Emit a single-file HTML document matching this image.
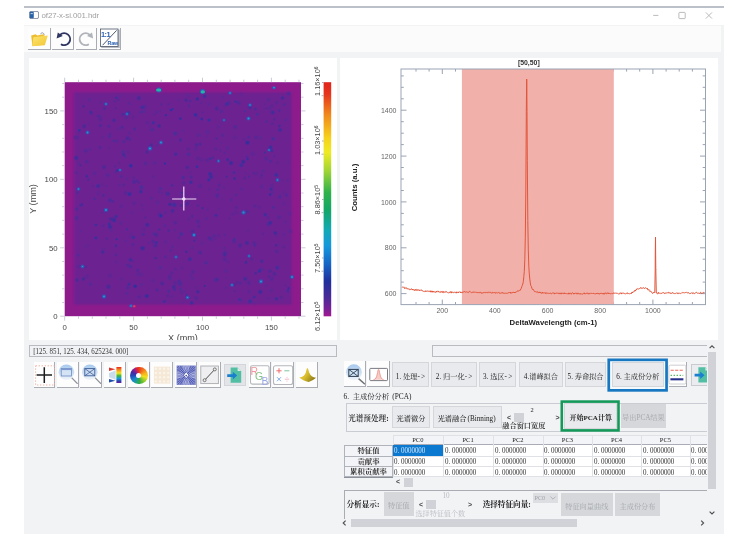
<!DOCTYPE html>
<html lang="zh">
<head>
<meta charset="utf-8">
<title>of27-x-si.001.hdr</title>
<style>
html,body{margin:0;padding:0;background:#fff;}
body{width:736px;height:550px;position:relative;overflow:hidden;font-family:"Liberation Sans","Noto Sans CJK SC",sans-serif;}
.abs{position:absolute;}
#win{position:absolute;left:24px;top:6px;width:700px;height:528px;background:#f2f3f5;}
#topline{position:absolute;left:24px;top:6px;width:700px;height:2px;background:#bcc0c9;}
#title{position:absolute;left:24px;top:8px;width:700px;height:17px;background:#fff;}
#ttext{position:absolute;left:41.5px;top:10px;font-size:7.9px;line-height:11px;color:#a0a0a0;letter-spacing:-0.1px;white-space:nowrap;}
#tbar{position:absolute;left:24px;top:26px;width:697px;height:26px;background:#fbfbfc;}
.panel{position:absolute;background:#fff;}
.tb{position:absolute;background:#fdfdfd;border-right:1px solid #a9acb2;border-bottom:1px solid #a9acb2;box-sizing:border-box;}
.inp{position:absolute;box-sizing:border-box;border:1px solid #b9bbc0;background:#f1f2f5;font-family:"Liberation Serif","Noto Serif CJK SC",serif;font-size:7px;line-height:9px;color:#333;white-space:nowrap;}
.cj{font-family:"Liberation Serif","Noto Serif CJK SC",serif;white-space:nowrap;position:absolute;color:#222;}
.btn{position:absolute;box-sizing:border-box;padding-top:4.6px;background:#e9eaed;border:1px solid #d4d6da;font-family:"Liberation Serif","Noto Serif CJK SC",serif;font-size:7.2px;color:#222;text-align:center;white-space:nowrap;}
.btn.dis{background:#d5d7da;border-color:#d5d7da;color:#a4a7ad;}
.p{letter-spacing:.25em}.q{letter-spacing:.167em}.r{margin-left:.167em}
.gb{position:absolute;box-sizing:border-box;border:1px solid #c9ccd2;}
</style>
</head>
<body>
<div id="win"></div>
<div id="topline"></div>
<div id="title"></div>
<!-- title icon -->
<svg class="abs" style="left:29px;top:11.2px" width="10" height="8" viewBox="0 0 10 8"><rect x="0.4" y="0.4" width="9.2" height="7.2" rx="1.6" fill="#fff" stroke="#6a7a90" stroke-width="0.8"/><rect x="0.8" y="0.8" width="4" height="6.4" rx="1" fill="#2a63a8"/><rect x="1.6" y="2.2" width="2.2" height="0.9" fill="#cfe0f5"/></svg>
<div id="ttext">of27-x-si.001.hdr</div>
<svg class="abs" style="left:650px;top:9px" width="70" height="14" viewBox="0 0 70 14" fill="none" stroke="#b3b3b3" stroke-width="0.9"><path d="M3.2 6.4h5.2"/><rect x="28.9" y="3.4" width="6.3" height="6.2" rx="0.6"/><path d="M55.8 3.4l6.2 6.2M62 3.4l-6.2 6.2"/></svg>
<div id="tbar"></div>

<div class="panel" style="left:29.3px;top:57.5px;width:307.7px;height:282.5px;"></div>
<div class="panel" style="left:340px;top:57.5px;width:377.7px;height:282px;"></div>
<svg style="position:absolute;left:0;top:0" width="736" height="550" viewBox="0 0 736 550">
<defs><filter id="b1" x="-50%" y="-50%" width="200%" height="200%"><feGaussianBlur stdDeviation="0.8"/></filter><filter id="b3" x="-5%" y="-5%" width="110%" height="110%"><feGaussianBlur stdDeviation="1.1"/></filter><filter id="b2" x="-50%" y="-50%" width="200%" height="200%"><feGaussianBlur stdDeviation="0.7"/></filter><radialGradient id="dg0"><stop offset="0" stop-color="#2c2f9e"/><stop offset="0.35" stop-color="#2c2f9e" stop-opacity="0.85"/><stop offset="1" stop-color="#2c2f9e" stop-opacity="0"/></radialGradient><radialGradient id="dg1"><stop offset="0" stop-color="#33309c"/><stop offset="0.35" stop-color="#33309c" stop-opacity="0.85"/><stop offset="1" stop-color="#33309c" stop-opacity="0"/></radialGradient><radialGradient id="dg2"><stop offset="0" stop-color="#2732a4"/><stop offset="0.35" stop-color="#2732a4" stop-opacity="0.85"/><stop offset="1" stop-color="#2732a4" stop-opacity="0"/></radialGradient><radialGradient id="dg3"><stop offset="0" stop-color="#3b2c9a"/><stop offset="0.35" stop-color="#3b2c9a" stop-opacity="0.85"/><stop offset="1" stop-color="#3b2c9a" stop-opacity="0"/></radialGradient><radialGradient id="dg4"><stop offset="0" stop-color="#2a34a2"/><stop offset="0.35" stop-color="#2a34a2" stop-opacity="0.85"/><stop offset="1" stop-color="#2a34a2" stop-opacity="0"/></radialGradient><radialGradient id="dg5"><stop offset="0" stop-color="#43309a"/><stop offset="0.35" stop-color="#43309a" stop-opacity="0.85"/><stop offset="1" stop-color="#43309a" stop-opacity="0"/></radialGradient><linearGradient id="cb" x1="0" y1="0" x2="0" y2="1"><stop offset="0" stop-color="#e0241c"/><stop offset="0.05" stop-color="#e5341c"/><stop offset="0.14" stop-color="#f08a1c"/><stop offset="0.24" stop-color="#f6d31c"/><stop offset="0.30" stop-color="#eeea22"/><stop offset="0.38" stop-color="#9fd436"/><stop offset="0.47" stop-color="#2fb24a"/><stop offset="0.55" stop-color="#12a66a"/><stop offset="0.63" stop-color="#12a9b4"/><stop offset="0.70" stop-color="#1598dc"/><stop offset="0.78" stop-color="#1663c4"/><stop offset="0.85" stop-color="#1f2f9c"/><stop offset="0.92" stop-color="#4a2a98"/><stop offset="0.97" stop-color="#7a2096"/><stop offset="1" stop-color="#a01890"/></linearGradient><clipPath id="hc"><rect x="71.0" y="86.4" width="223.60000000000002" height="221.20000000000002"/></clipPath></defs>
<rect x="64.7" y="82.2" width="236.3" height="234.0" fill="#8d1b8c"/>
<rect x="74.0" y="92.4" width="217.60000000000002" height="212.20000000000002" fill="#6c2491" filter="url(#b3)"/>
<g clip-path="url(#hc)">
<g>
<circle cx="172.5" cy="211.1" r="2.9" fill="url(#dg3)" opacity="0.45"/>
<circle cx="115.9" cy="262.4" r="2.3" fill="url(#dg4)" opacity="0.18"/>
<circle cx="140.4" cy="112.5" r="2.7" fill="url(#dg5)" opacity="0.36"/>
<circle cx="160.4" cy="188.6" r="2.6" fill="url(#dg5)" opacity="0.66"/>
<circle cx="188.9" cy="105.9" r="1.9" fill="url(#dg1)" opacity="0.42"/>
<circle cx="145.3" cy="217.6" r="1.9" fill="url(#dg1)" opacity="0.32"/>
<circle cx="217.8" cy="189.5" r="2.0" fill="url(#dg4)" opacity="0.44"/>
<circle cx="227.6" cy="159.7" r="1.9" fill="url(#dg2)" opacity="0.85"/>
<circle cx="98.3" cy="116.1" r="2.0" fill="url(#dg0)" opacity="0.45"/>
<circle cx="75.1" cy="137.5" r="2.9" fill="url(#dg3)" opacity="0.40"/>
<circle cx="165.5" cy="212.4" r="1.9" fill="url(#dg5)" opacity="0.68"/>
<circle cx="146.7" cy="296.0" r="2.7" fill="url(#dg0)" opacity="0.90"/>
<circle cx="77.4" cy="191.1" r="2.3" fill="url(#dg5)" opacity="0.31"/>
<circle cx="116.1" cy="247.2" r="1.8" fill="url(#dg5)" opacity="0.29"/>
<circle cx="288.5" cy="93.5" r="2.8" fill="url(#dg4)" opacity="0.46"/>
<circle cx="120.4" cy="176.3" r="2.8" fill="url(#dg5)" opacity="0.16"/>
<circle cx="106.6" cy="186.2" r="1.6" fill="url(#dg4)" opacity="0.25"/>
<circle cx="90.8" cy="112.3" r="2.4" fill="url(#dg1)" opacity="0.78"/>
<circle cx="209.1" cy="120.1" r="2.4" fill="url(#dg4)" opacity="0.79"/>
<circle cx="210.2" cy="158.7" r="1.9" fill="url(#dg4)" opacity="0.72"/>
<circle cx="234.4" cy="291.1" r="1.9" fill="url(#dg3)" opacity="0.36"/>
<circle cx="165.9" cy="115.2" r="1.7" fill="url(#dg2)" opacity="0.90"/>
<circle cx="130.4" cy="266.5" r="2.4" fill="url(#dg2)" opacity="0.48"/>
<circle cx="285.7" cy="120.0" r="2.3" fill="url(#dg5)" opacity="0.37"/>
<circle cx="135.4" cy="286.2" r="1.9" fill="url(#dg0)" opacity="0.79"/>
<circle cx="128.7" cy="103.2" r="2.0" fill="url(#dg4)" opacity="0.20"/>
<circle cx="153.1" cy="280.7" r="3.0" fill="url(#dg5)" opacity="0.33"/>
<circle cx="279.1" cy="217.4" r="2.9" fill="url(#dg3)" opacity="0.40"/>
<circle cx="282.6" cy="97.9" r="2.5" fill="url(#dg3)" opacity="0.76"/>
<circle cx="104.5" cy="108.6" r="2.2" fill="url(#dg2)" opacity="0.47"/>
<circle cx="233.9" cy="241.3" r="2.7" fill="url(#dg2)" opacity="0.39"/>
<circle cx="269.2" cy="276.5" r="2.2" fill="url(#dg0)" opacity="0.35"/>
<circle cx="209.7" cy="173.8" r="2.4" fill="url(#dg4)" opacity="0.68"/>
<circle cx="99.9" cy="147.5" r="2.2" fill="url(#dg2)" opacity="0.41"/>
<circle cx="200.3" cy="186.0" r="2.8" fill="url(#dg0)" opacity="0.33"/>
<circle cx="141.9" cy="111.8" r="1.6" fill="url(#dg5)" opacity="0.92"/>
<circle cx="217.3" cy="195.6" r="2.9" fill="url(#dg2)" opacity="0.39"/>
<circle cx="118.7" cy="129.1" r="2.9" fill="url(#dg5)" opacity="0.32"/>
<circle cx="127.1" cy="178.5" r="2.0" fill="url(#dg5)" opacity="0.43"/>
<circle cx="272.1" cy="278.4" r="2.1" fill="url(#dg4)" opacity="0.22"/>
<circle cx="104.0" cy="167.1" r="2.9" fill="url(#dg0)" opacity="0.48"/>
<circle cx="134.7" cy="129.0" r="2.2" fill="url(#dg2)" opacity="0.44"/>
<circle cx="157.5" cy="202.7" r="2.5" fill="url(#dg5)" opacity="0.49"/>
<circle cx="172.6" cy="109.1" r="1.6" fill="url(#dg4)" opacity="0.90"/>
<circle cx="198.0" cy="158.4" r="2.7" fill="url(#dg0)" opacity="0.29"/>
<circle cx="115.9" cy="255.1" r="2.0" fill="url(#dg1)" opacity="0.49"/>
<circle cx="99.9" cy="116.3" r="2.3" fill="url(#dg5)" opacity="0.49"/>
<circle cx="222.6" cy="135.3" r="2.3" fill="url(#dg1)" opacity="0.41"/>
<circle cx="190.3" cy="101.0" r="1.9" fill="url(#dg2)" opacity="0.48"/>
<circle cx="182.9" cy="302.9" r="1.8" fill="url(#dg5)" opacity="0.18"/>
<circle cx="276.1" cy="245.2" r="1.8" fill="url(#dg3)" opacity="0.96"/>
<circle cx="76.5" cy="209.0" r="2.5" fill="url(#dg4)" opacity="0.48"/>
<circle cx="175.0" cy="230.3" r="1.9" fill="url(#dg5)" opacity="0.43"/>
<circle cx="274.3" cy="119.4" r="1.9" fill="url(#dg3)" opacity="0.49"/>
<circle cx="190.8" cy="259.6" r="2.0" fill="url(#dg5)" opacity="0.27"/>
<circle cx="92.8" cy="186.1" r="2.4" fill="url(#dg2)" opacity="0.16"/>
<circle cx="249.5" cy="106.9" r="2.7" fill="url(#dg1)" opacity="0.39"/>
<circle cx="272.5" cy="192.3" r="3.0" fill="url(#dg5)" opacity="0.39"/>
<circle cx="169.9" cy="278.4" r="2.4" fill="url(#dg5)" opacity="0.73"/>
<circle cx="188.5" cy="154.4" r="2.6" fill="url(#dg5)" opacity="0.83"/>
<circle cx="270.6" cy="147.3" r="2.5" fill="url(#dg4)" opacity="0.95"/>
<circle cx="283.8" cy="203.6" r="2.4" fill="url(#dg1)" opacity="0.19"/>
<circle cx="76.1" cy="172.7" r="2.4" fill="url(#dg0)" opacity="0.29"/>
<circle cx="247.7" cy="211.7" r="2.3" fill="url(#dg5)" opacity="0.98"/>
<circle cx="173.9" cy="286.9" r="2.7" fill="url(#dg3)" opacity="0.82"/>
<circle cx="102.4" cy="184.6" r="2.7" fill="url(#dg3)" opacity="0.19"/>
<circle cx="165.5" cy="99.6" r="2.0" fill="url(#dg5)" opacity="0.16"/>
<circle cx="116.8" cy="141.2" r="2.6" fill="url(#dg2)" opacity="0.24"/>
<circle cx="182.5" cy="198.4" r="2.4" fill="url(#dg4)" opacity="0.40"/>
<circle cx="226.2" cy="278.1" r="1.6" fill="url(#dg5)" opacity="0.34"/>
<circle cx="109.4" cy="136.3" r="2.5" fill="url(#dg5)" opacity="0.73"/>
<circle cx="192.1" cy="216.7" r="1.8" fill="url(#dg5)" opacity="0.27"/>
<circle cx="114.1" cy="220.2" r="2.8" fill="url(#dg1)" opacity="1.00"/>
<circle cx="266.4" cy="121.6" r="1.9" fill="url(#dg5)" opacity="0.79"/>
<circle cx="168.7" cy="291.2" r="2.4" fill="url(#dg5)" opacity="0.79"/>
<circle cx="222.7" cy="97.1" r="1.9" fill="url(#dg5)" opacity="0.44"/>
<circle cx="152.9" cy="241.5" r="2.5" fill="url(#dg2)" opacity="0.39"/>
<circle cx="115.7" cy="108.2" r="1.7" fill="url(#dg0)" opacity="0.36"/>
<circle cx="270.1" cy="194.6" r="1.9" fill="url(#dg0)" opacity="0.94"/>
<circle cx="288.5" cy="288.2" r="1.7" fill="url(#dg0)" opacity="0.89"/>
<circle cx="91.7" cy="113.7" r="2.1" fill="url(#dg3)" opacity="0.30"/>
<circle cx="204.6" cy="96.2" r="2.6" fill="url(#dg1)" opacity="0.81"/>
<circle cx="234.4" cy="178.6" r="1.9" fill="url(#dg1)" opacity="0.93"/>
<circle cx="144.8" cy="111.2" r="2.8" fill="url(#dg5)" opacity="0.35"/>
<circle cx="116.2" cy="216.3" r="2.1" fill="url(#dg2)" opacity="0.69"/>
<circle cx="235.2" cy="127.0" r="2.9" fill="url(#dg1)" opacity="0.46"/>
<circle cx="224.8" cy="254.7" r="2.7" fill="url(#dg3)" opacity="0.71"/>
<circle cx="246.9" cy="156.8" r="1.7" fill="url(#dg2)" opacity="0.47"/>
<circle cx="85.7" cy="150.8" r="2.9" fill="url(#dg2)" opacity="0.38"/>
<circle cx="197.8" cy="205.5" r="2.1" fill="url(#dg3)" opacity="0.40"/>
<circle cx="239.2" cy="299.4" r="1.6" fill="url(#dg4)" opacity="0.73"/>
<circle cx="170.7" cy="199.5" r="2.7" fill="url(#dg5)" opacity="0.18"/>
<circle cx="129.1" cy="283.8" r="2.4" fill="url(#dg4)" opacity="0.33"/>
<circle cx="257.5" cy="114.3" r="2.2" fill="url(#dg5)" opacity="0.86"/>
<circle cx="238.7" cy="102.9" r="2.9" fill="url(#dg1)" opacity="0.49"/>
<circle cx="259.5" cy="207.3" r="2.4" fill="url(#dg3)" opacity="0.30"/>
<circle cx="188.6" cy="219.1" r="2.1" fill="url(#dg2)" opacity="0.24"/>
<circle cx="275.4" cy="232.9" r="2.6" fill="url(#dg0)" opacity="0.74"/>
<circle cx="84.2" cy="126.3" r="2.7" fill="url(#dg3)" opacity="0.76"/>
<circle cx="160.8" cy="215.7" r="2.6" fill="url(#dg2)" opacity="0.97"/>
<circle cx="167.6" cy="193.8" r="3.0" fill="url(#dg1)" opacity="0.68"/>
<circle cx="249.7" cy="284.6" r="1.8" fill="url(#dg1)" opacity="0.19"/>
<circle cx="209.6" cy="189.2" r="1.9" fill="url(#dg0)" opacity="0.20"/>
<circle cx="153.3" cy="122.8" r="2.2" fill="url(#dg4)" opacity="0.85"/>
<circle cx="165.5" cy="256.9" r="2.3" fill="url(#dg1)" opacity="0.41"/>
<circle cx="126.4" cy="117.3" r="2.8" fill="url(#dg4)" opacity="0.28"/>
<circle cx="133.5" cy="237.4" r="2.4" fill="url(#dg4)" opacity="0.75"/>
<circle cx="126.6" cy="293.5" r="2.3" fill="url(#dg5)" opacity="0.46"/>
<circle cx="83.5" cy="106.2" r="2.0" fill="url(#dg3)" opacity="0.66"/>
<circle cx="123.0" cy="151.9" r="2.7" fill="url(#dg5)" opacity="0.73"/>
<circle cx="286.6" cy="195.1" r="2.1" fill="url(#dg2)" opacity="0.41"/>
<circle cx="255.8" cy="109.0" r="1.8" fill="url(#dg4)" opacity="0.42"/>
<circle cx="170.8" cy="250.5" r="2.1" fill="url(#dg1)" opacity="0.38"/>
<circle cx="288.3" cy="161.8" r="2.4" fill="url(#dg5)" opacity="0.21"/>
<circle cx="216.0" cy="215.4" r="2.2" fill="url(#dg2)" opacity="0.68"/>
<circle cx="196.6" cy="195.3" r="2.6" fill="url(#dg2)" opacity="0.15"/>
<circle cx="141.9" cy="284.8" r="2.4" fill="url(#dg5)" opacity="0.40"/>
<circle cx="224.6" cy="152.9" r="1.8" fill="url(#dg2)" opacity="0.26"/>
<circle cx="270.4" cy="161.2" r="2.2" fill="url(#dg4)" opacity="0.48"/>
<circle cx="271.9" cy="185.5" r="2.7" fill="url(#dg2)" opacity="0.23"/>
<circle cx="283.7" cy="246.8" r="2.3" fill="url(#dg0)" opacity="0.28"/>
<circle cx="153.3" cy="176.6" r="2.1" fill="url(#dg1)" opacity="0.28"/>
<circle cx="159.1" cy="125.9" r="2.4" fill="url(#dg1)" opacity="0.92"/>
<circle cx="264.9" cy="152.6" r="1.6" fill="url(#dg4)" opacity="0.71"/>
<circle cx="138.8" cy="98.1" r="2.8" fill="url(#dg3)" opacity="0.84"/>
<circle cx="244.9" cy="111.1" r="1.7" fill="url(#dg5)" opacity="0.76"/>
<circle cx="80.6" cy="230.8" r="1.7" fill="url(#dg5)" opacity="0.40"/>
<circle cx="180.4" cy="284.2" r="2.1" fill="url(#dg3)" opacity="0.27"/>
<circle cx="283.8" cy="234.7" r="2.3" fill="url(#dg4)" opacity="0.18"/>
<circle cx="208.3" cy="103.1" r="2.7" fill="url(#dg5)" opacity="0.15"/>
<circle cx="156.5" cy="112.2" r="2.3" fill="url(#dg4)" opacity="0.33"/>
<circle cx="228.1" cy="262.0" r="2.2" fill="url(#dg3)" opacity="0.24"/>
<circle cx="110.0" cy="226.9" r="2.6" fill="url(#dg2)" opacity="0.80"/>
<circle cx="138.0" cy="297.2" r="1.7" fill="url(#dg2)" opacity="0.26"/>
<circle cx="108.5" cy="286.7" r="2.9" fill="url(#dg3)" opacity="0.82"/>
<circle cx="247.6" cy="159.1" r="1.9" fill="url(#dg2)" opacity="0.73"/>
<circle cx="229.6" cy="218.4" r="1.9" fill="url(#dg1)" opacity="0.29"/>
<circle cx="271.3" cy="290.4" r="2.5" fill="url(#dg4)" opacity="0.24"/>
<circle cx="266.3" cy="285.6" r="2.1" fill="url(#dg4)" opacity="0.18"/>
<circle cx="261.0" cy="177.4" r="1.9" fill="url(#dg1)" opacity="0.28"/>
<circle cx="188.7" cy="201.8" r="2.0" fill="url(#dg0)" opacity="0.23"/>
<circle cx="77.3" cy="192.8" r="2.1" fill="url(#dg1)" opacity="0.36"/>
<circle cx="108.9" cy="126.4" r="2.1" fill="url(#dg2)" opacity="0.43"/>
<circle cx="103.3" cy="249.3" r="2.5" fill="url(#dg4)" opacity="0.20"/>
<circle cx="241.1" cy="93.7" r="2.7" fill="url(#dg1)" opacity="0.18"/>
<circle cx="133.2" cy="244.0" r="1.7" fill="url(#dg3)" opacity="0.18"/>
<circle cx="236.4" cy="207.6" r="2.3" fill="url(#dg0)" opacity="0.30"/>
<circle cx="272.7" cy="112.5" r="2.8" fill="url(#dg1)" opacity="0.79"/>
<circle cx="181.5" cy="292.4" r="2.9" fill="url(#dg2)" opacity="0.18"/>
<circle cx="140.9" cy="191.6" r="2.6" fill="url(#dg2)" opacity="0.70"/>
<circle cx="218.9" cy="235.5" r="2.6" fill="url(#dg0)" opacity="0.15"/>
<circle cx="156.3" cy="242.6" r="1.9" fill="url(#dg4)" opacity="0.92"/>
<circle cx="259.6" cy="270.9" r="2.6" fill="url(#dg4)" opacity="0.87"/>
<circle cx="277.1" cy="251.0" r="2.9" fill="url(#dg3)" opacity="0.18"/>
<circle cx="115.7" cy="172.6" r="1.8" fill="url(#dg2)" opacity="0.35"/>
<circle cx="231.0" cy="163.1" r="2.8" fill="url(#dg0)" opacity="0.87"/>
<circle cx="103.3" cy="225.9" r="1.9" fill="url(#dg1)" opacity="0.44"/>
<circle cx="202.8" cy="112.3" r="1.9" fill="url(#dg1)" opacity="0.30"/>
<circle cx="241.3" cy="165.2" r="2.8" fill="url(#dg4)" opacity="0.72"/>
<circle cx="106.9" cy="238.7" r="2.3" fill="url(#dg3)" opacity="0.40"/>
<circle cx="207.2" cy="160.2" r="2.7" fill="url(#dg1)" opacity="0.36"/>
<circle cx="79.0" cy="163.0" r="2.1" fill="url(#dg5)" opacity="0.35"/>
<circle cx="119.2" cy="163.3" r="2.0" fill="url(#dg0)" opacity="0.21"/>
<circle cx="240.3" cy="283.2" r="2.4" fill="url(#dg2)" opacity="0.33"/>
<circle cx="198.8" cy="135.1" r="2.9" fill="url(#dg5)" opacity="0.48"/>
<circle cx="197.3" cy="99.0" r="2.5" fill="url(#dg0)" opacity="0.82"/>
<circle cx="165.0" cy="163.5" r="1.7" fill="url(#dg2)" opacity="0.96"/>
<circle cx="172.5" cy="246.8" r="1.9" fill="url(#dg4)" opacity="0.35"/>
<circle cx="195.8" cy="149.0" r="2.9" fill="url(#dg2)" opacity="0.19"/>
<circle cx="252.8" cy="154.1" r="2.9" fill="url(#dg1)" opacity="0.28"/>
<circle cx="110.8" cy="219.0" r="2.7" fill="url(#dg3)" opacity="0.71"/>
<circle cx="287.8" cy="290.9" r="2.5" fill="url(#dg2)" opacity="0.45"/>
<circle cx="270.4" cy="222.7" r="2.5" fill="url(#dg0)" opacity="0.79"/>
<circle cx="82.1" cy="204.4" r="1.8" fill="url(#dg3)" opacity="0.83"/>
<circle cx="131.8" cy="212.8" r="2.1" fill="url(#dg5)" opacity="0.40"/>
<circle cx="244.8" cy="178.1" r="2.3" fill="url(#dg0)" opacity="0.29"/>
<circle cx="209.5" cy="238.3" r="2.7" fill="url(#dg2)" opacity="0.50"/>
<circle cx="255.7" cy="273.1" r="2.2" fill="url(#dg3)" opacity="0.69"/>
<circle cx="277.4" cy="162.8" r="2.3" fill="url(#dg3)" opacity="0.26"/>
<circle cx="86.8" cy="245.9" r="2.9" fill="url(#dg5)" opacity="0.26"/>
<circle cx="245.2" cy="278.9" r="2.8" fill="url(#dg1)" opacity="0.81"/>
<circle cx="183.4" cy="176.8" r="1.7" fill="url(#dg5)" opacity="0.97"/>
<circle cx="192.5" cy="231.5" r="2.9" fill="url(#dg0)" opacity="0.41"/>
<circle cx="262.9" cy="170.9" r="2.4" fill="url(#dg4)" opacity="0.23"/>
<circle cx="236.0" cy="212.5" r="2.9" fill="url(#dg0)" opacity="0.20"/>
<circle cx="265.2" cy="214.5" r="2.2" fill="url(#dg2)" opacity="0.75"/>
<circle cx="145.0" cy="106.6" r="2.9" fill="url(#dg4)" opacity="0.27"/>
<circle cx="201.2" cy="103.0" r="1.6" fill="url(#dg2)" opacity="0.32"/>
<circle cx="276.4" cy="298.8" r="2.3" fill="url(#dg1)" opacity="0.95"/>
<circle cx="224.3" cy="105.8" r="2.0" fill="url(#dg2)" opacity="0.16"/>
<circle cx="212.0" cy="240.1" r="2.4" fill="url(#dg4)" opacity="0.22"/>
<circle cx="264.8" cy="103.9" r="1.7" fill="url(#dg5)" opacity="0.49"/>
<circle cx="134.1" cy="181.8" r="2.8" fill="url(#dg2)" opacity="0.48"/>
<circle cx="171.0" cy="110.0" r="1.9" fill="url(#dg2)" opacity="0.89"/>
<circle cx="133.0" cy="244.8" r="2.3" fill="url(#dg2)" opacity="0.28"/>
<circle cx="217.7" cy="279.3" r="2.4" fill="url(#dg1)" opacity="0.46"/>
<circle cx="113.9" cy="140.9" r="1.8" fill="url(#dg5)" opacity="0.99"/>
<circle cx="169.9" cy="204.4" r="2.3" fill="url(#dg0)" opacity="0.86"/>
<circle cx="190.8" cy="182.4" r="2.4" fill="url(#dg1)" opacity="0.91"/>
<circle cx="128.0" cy="152.1" r="2.4" fill="url(#dg1)" opacity="0.20"/>
<circle cx="268.6" cy="224.1" r="2.9" fill="url(#dg4)" opacity="0.48"/>
<circle cx="182.8" cy="131.2" r="2.4" fill="url(#dg5)" opacity="0.26"/>
<circle cx="179.2" cy="100.1" r="2.0" fill="url(#dg5)" opacity="0.33"/>
<circle cx="280.1" cy="130.0" r="2.7" fill="url(#dg1)" opacity="0.80"/>
<circle cx="219.1" cy="208.6" r="2.0" fill="url(#dg5)" opacity="0.23"/>
<circle cx="180.5" cy="139.9" r="2.4" fill="url(#dg3)" opacity="0.72"/>
<circle cx="284.3" cy="104.4" r="2.2" fill="url(#dg1)" opacity="0.36"/>
<circle cx="206.2" cy="262.9" r="2.3" fill="url(#dg5)" opacity="0.93"/>
<circle cx="90.6" cy="284.1" r="2.4" fill="url(#dg4)" opacity="0.40"/>
<circle cx="209.4" cy="104.7" r="2.2" fill="url(#dg5)" opacity="0.37"/>
<circle cx="188.3" cy="149.0" r="2.4" fill="url(#dg0)" opacity="0.33"/>
<circle cx="156.7" cy="145.6" r="2.3" fill="url(#dg5)" opacity="0.43"/>
<circle cx="88.2" cy="179.7" r="2.1" fill="url(#dg1)" opacity="0.49"/>
<circle cx="102.7" cy="252.2" r="2.4" fill="url(#dg1)" opacity="0.81"/>
<circle cx="235.6" cy="101.6" r="1.9" fill="url(#dg4)" opacity="0.79"/>
<circle cx="139.3" cy="182.6" r="1.7" fill="url(#dg0)" opacity="0.40"/>
<circle cx="285.4" cy="222.1" r="2.0" fill="url(#dg0)" opacity="0.23"/>
<circle cx="174.5" cy="289.4" r="2.1" fill="url(#dg2)" opacity="0.47"/>
<circle cx="122.1" cy="127.1" r="2.4" fill="url(#dg0)" opacity="0.35"/>
<circle cx="271.6" cy="279.3" r="2.9" fill="url(#dg1)" opacity="0.29"/>
<circle cx="256.8" cy="173.5" r="2.7" fill="url(#dg1)" opacity="0.24"/>
<circle cx="246.0" cy="262.4" r="2.3" fill="url(#dg3)" opacity="0.81"/>
<circle cx="141.5" cy="187.4" r="3.0" fill="url(#dg5)" opacity="0.82"/>
<circle cx="191.5" cy="181.5" r="1.7" fill="url(#dg2)" opacity="0.25"/>
<circle cx="79.0" cy="131.7" r="2.0" fill="url(#dg3)" opacity="0.38"/>
<circle cx="121.9" cy="115.1" r="1.7" fill="url(#dg5)" opacity="0.28"/>
<circle cx="240.1" cy="245.5" r="2.9" fill="url(#dg0)" opacity="0.44"/>
<circle cx="172.0" cy="273.0" r="2.1" fill="url(#dg2)" opacity="0.33"/>
<circle cx="86.8" cy="176.2" r="1.9" fill="url(#dg0)" opacity="0.83"/>
<circle cx="102.5" cy="137.2" r="2.2" fill="url(#dg3)" opacity="0.20"/>
<circle cx="227.3" cy="148.1" r="2.6" fill="url(#dg5)" opacity="0.46"/>
<circle cx="254.9" cy="205.9" r="2.2" fill="url(#dg1)" opacity="0.45"/>
<circle cx="123.7" cy="154.8" r="2.1" fill="url(#dg1)" opacity="0.95"/>
<circle cx="236.1" cy="194.9" r="1.6" fill="url(#dg5)" opacity="0.88"/>
<circle cx="273.2" cy="138.8" r="2.6" fill="url(#dg5)" opacity="0.92"/>
<circle cx="155.7" cy="258.1" r="2.0" fill="url(#dg3)" opacity="0.82"/>
<circle cx="180.6" cy="289.0" r="2.0" fill="url(#dg5)" opacity="0.71"/>
<circle cx="161.8" cy="193.3" r="1.8" fill="url(#dg5)" opacity="0.33"/>
<circle cx="235.1" cy="284.2" r="2.7" fill="url(#dg3)" opacity="0.40"/>
<circle cx="194.3" cy="240.6" r="1.6" fill="url(#dg3)" opacity="0.97"/>
<circle cx="271.7" cy="150.6" r="2.1" fill="url(#dg4)" opacity="0.90"/>
<circle cx="266.0" cy="108.6" r="1.6" fill="url(#dg2)" opacity="0.35"/>
<circle cx="131.5" cy="233.8" r="1.9" fill="url(#dg3)" opacity="0.27"/>
<circle cx="268.5" cy="99.9" r="2.6" fill="url(#dg1)" opacity="0.37"/>
<circle cx="208.8" cy="179.8" r="2.2" fill="url(#dg2)" opacity="0.81"/>
<circle cx="171.9" cy="296.5" r="2.1" fill="url(#dg1)" opacity="0.25"/>
<circle cx="181.7" cy="192.8" r="1.6" fill="url(#dg4)" opacity="0.73"/>
<circle cx="221.6" cy="142.7" r="1.6" fill="url(#dg4)" opacity="0.15"/>
<circle cx="192.9" cy="271.9" r="2.7" fill="url(#dg0)" opacity="0.35"/>
<circle cx="254.2" cy="297.0" r="2.1" fill="url(#dg2)" opacity="0.66"/>
<circle cx="248.7" cy="137.1" r="2.2" fill="url(#dg1)" opacity="0.44"/>
<circle cx="109.4" cy="224.1" r="2.3" fill="url(#dg4)" opacity="0.80"/>
<circle cx="154.1" cy="233.8" r="2.3" fill="url(#dg5)" opacity="0.76"/>
<circle cx="113.3" cy="201.4" r="1.8" fill="url(#dg0)" opacity="0.44"/>
<circle cx="265.9" cy="158.6" r="2.8" fill="url(#dg4)" opacity="0.32"/>
<circle cx="110.1" cy="275.5" r="2.8" fill="url(#dg0)" opacity="0.29"/>
<circle cx="234.4" cy="239.2" r="2.0" fill="url(#dg5)" opacity="0.90"/>
<circle cx="145.5" cy="163.6" r="2.7" fill="url(#dg4)" opacity="0.35"/>
<circle cx="165.7" cy="242.0" r="2.5" fill="url(#dg2)" opacity="0.19"/>
<circle cx="156.3" cy="234.1" r="1.9" fill="url(#dg1)" opacity="0.32"/>
<circle cx="224.6" cy="259.6" r="2.9" fill="url(#dg2)" opacity="0.30"/>
<circle cx="211.1" cy="176.8" r="2.9" fill="url(#dg1)" opacity="0.90"/>
<circle cx="100.5" cy="102.3" r="2.0" fill="url(#dg5)" opacity="0.43"/>
<circle cx="162.2" cy="283.6" r="2.8" fill="url(#dg3)" opacity="0.67"/>
<circle cx="169.6" cy="276.2" r="2.5" fill="url(#dg1)" opacity="0.37"/>
<circle cx="240.0" cy="299.6" r="2.1" fill="url(#dg5)" opacity="0.75"/>
<circle cx="261.9" cy="186.4" r="2.8" fill="url(#dg4)" opacity="0.24"/>
<circle cx="180.3" cy="118.7" r="2.1" fill="url(#dg0)" opacity="0.85"/>
<circle cx="134.0" cy="177.5" r="2.1" fill="url(#dg0)" opacity="0.28"/>
<circle cx="131.0" cy="104.2" r="1.7" fill="url(#dg2)" opacity="0.15"/>
<circle cx="147.5" cy="122.8" r="2.7" fill="url(#dg3)" opacity="0.30"/>
<circle cx="249.0" cy="176.6" r="1.7" fill="url(#dg4)" opacity="0.44"/>
<circle cx="129.4" cy="133.0" r="2.0" fill="url(#dg1)" opacity="0.31"/>
<circle cx="254.7" cy="245.8" r="1.8" fill="url(#dg0)" opacity="0.34"/>
<circle cx="220.5" cy="150.4" r="1.6" fill="url(#dg4)" opacity="0.33"/>
<circle cx="77.3" cy="137.6" r="2.9" fill="url(#dg0)" opacity="0.24"/>
<circle cx="127.8" cy="287.7" r="2.3" fill="url(#dg2)" opacity="0.44"/>
<circle cx="240.5" cy="300.6" r="1.7" fill="url(#dg3)" opacity="0.40"/>
<circle cx="129.0" cy="284.6" r="1.6" fill="url(#dg4)" opacity="0.76"/>
<circle cx="231.2" cy="199.8" r="2.0" fill="url(#dg2)" opacity="0.31"/>
<circle cx="142.3" cy="107.4" r="2.5" fill="url(#dg4)" opacity="0.77"/>
<circle cx="234.9" cy="137.8" r="2.6" fill="url(#dg4)" opacity="0.22"/>
<circle cx="149.9" cy="126.1" r="2.1" fill="url(#dg1)" opacity="0.15"/>
<circle cx="183.4" cy="178.2" r="2.1" fill="url(#dg4)" opacity="0.42"/>
<circle cx="79.5" cy="130.1" r="1.7" fill="url(#dg4)" opacity="1.00"/>
<circle cx="167.7" cy="295.8" r="1.9" fill="url(#dg3)" opacity="0.46"/>
<circle cx="250.2" cy="108.1" r="2.1" fill="url(#dg2)" opacity="0.42"/>
<circle cx="188.2" cy="95.5" r="2.6" fill="url(#dg5)" opacity="0.38"/>
<circle cx="120.8" cy="222.9" r="2.8" fill="url(#dg5)" opacity="0.33"/>
<circle cx="197.4" cy="117.4" r="2.8" fill="url(#dg5)" opacity="0.30"/>
<circle cx="175.7" cy="269.3" r="2.3" fill="url(#dg3)" opacity="0.35"/>
<circle cx="186.1" cy="100.2" r="2.5" fill="url(#dg3)" opacity="0.67"/>
<circle cx="86.8" cy="161.7" r="2.4" fill="url(#dg2)" opacity="0.41"/>
<circle cx="142.5" cy="248.3" r="3.0" fill="url(#dg3)" opacity="0.99"/>
<circle cx="237.3" cy="282.0" r="1.8" fill="url(#dg1)" opacity="0.38"/>
<circle cx="277.2" cy="267.7" r="2.7" fill="url(#dg4)" opacity="0.74"/>
<circle cx="114.9" cy="101.4" r="2.1" fill="url(#dg4)" opacity="0.31"/>
<circle cx="190.6" cy="275.3" r="1.9" fill="url(#dg2)" opacity="0.23"/>
<circle cx="98.1" cy="186.0" r="2.7" fill="url(#dg1)" opacity="0.82"/>
<circle cx="87.1" cy="276.3" r="3.0" fill="url(#dg0)" opacity="0.20"/>
<circle cx="153.9" cy="114.5" r="1.7" fill="url(#dg2)" opacity="0.23"/>
<circle cx="137.2" cy="180.9" r="2.5" fill="url(#dg0)" opacity="0.37"/>
<circle cx="269.4" cy="108.5" r="3.0" fill="url(#dg1)" opacity="0.26"/>
<circle cx="281.3" cy="297.3" r="2.4" fill="url(#dg3)" opacity="0.44"/>
<circle cx="225.9" cy="270.9" r="2.9" fill="url(#dg5)" opacity="0.39"/>
<circle cx="114.0" cy="120.3" r="2.6" fill="url(#dg3)" opacity="0.75"/>
<circle cx="130.8" cy="165.7" r="2.5" fill="url(#dg2)" opacity="1.00"/>
<circle cx="224.1" cy="248.2" r="2.1" fill="url(#dg2)" opacity="0.22"/>
<circle cx="90.4" cy="149.3" r="2.1" fill="url(#dg4)" opacity="0.31"/>
<circle cx="184.2" cy="291.3" r="2.1" fill="url(#dg5)" opacity="0.32"/>
<circle cx="100.3" cy="119.3" r="2.8" fill="url(#dg0)" opacity="0.31"/>
<circle cx="276.3" cy="174.9" r="2.6" fill="url(#dg4)" opacity="0.87"/>
<circle cx="154.1" cy="163.5" r="2.4" fill="url(#dg5)" opacity="0.25"/>
<circle cx="224.8" cy="234.7" r="1.9" fill="url(#dg3)" opacity="0.36"/>
<circle cx="261.8" cy="175.0" r="2.0" fill="url(#dg0)" opacity="0.45"/>
<circle cx="202.4" cy="208.2" r="1.7" fill="url(#dg1)" opacity="0.78"/>
<circle cx="155.7" cy="245.4" r="2.5" fill="url(#dg2)" opacity="0.44"/>
<circle cx="263.2" cy="233.8" r="1.8" fill="url(#dg0)" opacity="0.31"/>
<circle cx="143.1" cy="234.4" r="2.4" fill="url(#dg1)" opacity="0.50"/>
<circle cx="160.2" cy="267.6" r="2.5" fill="url(#dg5)" opacity="0.67"/>
<circle cx="290.5" cy="231.3" r="2.7" fill="url(#dg1)" opacity="0.35"/>
<circle cx="182.2" cy="267.9" r="2.3" fill="url(#dg0)" opacity="0.18"/>
<circle cx="111.0" cy="229.8" r="2.5" fill="url(#dg5)" opacity="0.38"/>
<circle cx="284.1" cy="193.0" r="2.8" fill="url(#dg3)" opacity="0.16"/>
<circle cx="260.3" cy="291.9" r="2.9" fill="url(#dg0)" opacity="0.79"/>
<circle cx="196.0" cy="298.2" r="2.7" fill="url(#dg0)" opacity="0.33"/>
<circle cx="101.9" cy="212.8" r="1.8" fill="url(#dg0)" opacity="0.26"/>
<circle cx="151.1" cy="145.1" r="2.4" fill="url(#dg3)" opacity="0.73"/>
<circle cx="172.4" cy="210.7" r="2.2" fill="url(#dg0)" opacity="0.33"/>
<circle cx="106.0" cy="212.0" r="1.8" fill="url(#dg4)" opacity="0.45"/>
<circle cx="282.8" cy="180.3" r="1.6" fill="url(#dg1)" opacity="0.19"/>
<circle cx="234.0" cy="172.6" r="2.0" fill="url(#dg4)" opacity="0.69"/>
<circle cx="139.8" cy="296.5" r="2.5" fill="url(#dg0)" opacity="0.25"/>
<circle cx="121.3" cy="206.2" r="2.5" fill="url(#dg3)" opacity="0.32"/>
<circle cx="216.0" cy="279.8" r="2.9" fill="url(#dg4)" opacity="0.47"/>
<circle cx="95.9" cy="224.9" r="2.0" fill="url(#dg4)" opacity="0.78"/>
<circle cx="167.5" cy="193.6" r="2.1" fill="url(#dg3)" opacity="0.19"/>
<circle cx="142.1" cy="205.0" r="1.8" fill="url(#dg3)" opacity="0.29"/>
<circle cx="123.0" cy="114.2" r="2.1" fill="url(#dg2)" opacity="0.48"/>
<circle cx="187.1" cy="204.1" r="2.6" fill="url(#dg2)" opacity="0.49"/>
<circle cx="76.5" cy="218.1" r="2.9" fill="url(#dg2)" opacity="0.39"/>
<circle cx="256.1" cy="137.5" r="2.7" fill="url(#dg0)" opacity="0.32"/>
<circle cx="186.3" cy="251.8" r="1.7" fill="url(#dg0)" opacity="0.86"/>
<circle cx="249.1" cy="291.8" r="2.5" fill="url(#dg2)" opacity="0.25"/>
<circle cx="221.6" cy="111.4" r="3.0" fill="url(#dg2)" opacity="0.26"/>
<circle cx="251.7" cy="259.1" r="2.5" fill="url(#dg0)" opacity="0.32"/>
<circle cx="160.2" cy="111.0" r="1.8" fill="url(#dg2)" opacity="0.16"/>
<circle cx="276.4" cy="251.6" r="2.4" fill="url(#dg0)" opacity="0.32"/>
<circle cx="147.3" cy="224.9" r="2.9" fill="url(#dg0)" opacity="0.68"/>
<circle cx="222.8" cy="122.8" r="2.7" fill="url(#dg5)" opacity="0.19"/>
<circle cx="144.0" cy="247.8" r="1.7" fill="url(#dg0)" opacity="0.27"/>
<circle cx="254.3" cy="243.1" r="2.6" fill="url(#dg3)" opacity="0.48"/>
<circle cx="195.8" cy="287.3" r="1.9" fill="url(#dg3)" opacity="0.20"/>
<circle cx="279.3" cy="126.0" r="2.0" fill="url(#dg3)" opacity="0.80"/>
<circle cx="156.4" cy="235.2" r="2.9" fill="url(#dg3)" opacity="0.43"/>
<circle cx="185.3" cy="194.7" r="2.4" fill="url(#dg1)" opacity="0.26"/>
<circle cx="78.2" cy="266.4" r="2.5" fill="url(#dg3)" opacity="0.33"/>
<circle cx="158.8" cy="214.1" r="2.8" fill="url(#dg2)" opacity="0.20"/>
<circle cx="226.7" cy="176.7" r="1.7" fill="url(#dg3)" opacity="0.74"/>
<circle cx="232.5" cy="214.3" r="2.0" fill="url(#dg0)" opacity="0.24"/>
<circle cx="127.4" cy="138.2" r="2.9" fill="url(#dg0)" opacity="0.49"/>
<circle cx="271.1" cy="189.2" r="2.3" fill="url(#dg1)" opacity="0.87"/>
<circle cx="221.5" cy="198.6" r="1.8" fill="url(#dg5)" opacity="0.21"/>
<circle cx="180.7" cy="196.3" r="2.2" fill="url(#dg2)" opacity="0.18"/>
<circle cx="244.0" cy="139.3" r="1.9" fill="url(#dg4)" opacity="0.27"/>
<circle cx="110.2" cy="133.4" r="1.8" fill="url(#dg2)" opacity="0.28"/>
<circle cx="280.0" cy="244.4" r="2.0" fill="url(#dg5)" opacity="0.19"/>
<circle cx="152.2" cy="129.7" r="2.8" fill="url(#dg5)" opacity="0.74"/>
<circle cx="103.4" cy="195.3" r="2.0" fill="url(#dg2)" opacity="0.48"/>
<circle cx="107.8" cy="175.3" r="2.8" fill="url(#dg4)" opacity="0.36"/>
<circle cx="192.2" cy="247.7" r="2.3" fill="url(#dg5)" opacity="0.36"/>
<circle cx="212.7" cy="157.8" r="2.2" fill="url(#dg2)" opacity="0.34"/>
<circle cx="178.7" cy="237.6" r="2.1" fill="url(#dg1)" opacity="0.33"/>
<circle cx="197.0" cy="166.7" r="1.9" fill="url(#dg4)" opacity="0.98"/>
<circle cx="216.7" cy="108.5" r="2.9" fill="url(#dg0)" opacity="0.49"/>
<circle cx="117.1" cy="170.6" r="2.1" fill="url(#dg1)" opacity="0.88"/>
<circle cx="89.6" cy="99.6" r="2.4" fill="url(#dg5)" opacity="0.49"/>
<circle cx="273.3" cy="207.4" r="2.2" fill="url(#dg5)" opacity="0.83"/>
<circle cx="151.4" cy="198.3" r="1.9" fill="url(#dg5)" opacity="0.70"/>
<circle cx="116.6" cy="239.2" r="1.6" fill="url(#dg4)" opacity="0.96"/>
<circle cx="130.2" cy="139.5" r="2.0" fill="url(#dg1)" opacity="0.48"/>
<circle cx="274.5" cy="273.9" r="2.9" fill="url(#dg0)" opacity="0.43"/>
<circle cx="289.9" cy="213.5" r="2.9" fill="url(#dg2)" opacity="0.18"/>
<circle cx="186.9" cy="295.1" r="1.6" fill="url(#dg0)" opacity="0.76"/>
<circle cx="287.9" cy="180.5" r="1.8" fill="url(#dg1)" opacity="0.33"/>
<circle cx="200.1" cy="252.6" r="2.7" fill="url(#dg0)" opacity="0.49"/>
<circle cx="121.6" cy="176.5" r="1.9" fill="url(#dg2)" opacity="0.27"/>
<circle cx="78.2" cy="255.3" r="2.0" fill="url(#dg4)" opacity="0.40"/>
<circle cx="187.4" cy="167.4" r="2.5" fill="url(#dg3)" opacity="0.70"/>
<circle cx="129.6" cy="194.1" r="2.7" fill="url(#dg2)" opacity="0.89"/>
<circle cx="206.6" cy="218.6" r="2.4" fill="url(#dg4)" opacity="0.21"/>
<circle cx="125.1" cy="156.8" r="2.1" fill="url(#dg5)" opacity="0.66"/>
<circle cx="128.4" cy="112.9" r="2.6" fill="url(#dg4)" opacity="0.73"/>
<circle cx="164.3" cy="301.5" r="2.1" fill="url(#dg2)" opacity="0.68"/>
<circle cx="255.1" cy="303.6" r="2.2" fill="url(#dg5)" opacity="0.27"/>
<circle cx="245.4" cy="173.2" r="2.0" fill="url(#dg4)" opacity="0.17"/>
<circle cx="285.1" cy="285.1" r="1.7" fill="url(#dg0)" opacity="0.17"/>
<circle cx="272.2" cy="123.6" r="1.9" fill="url(#dg3)" opacity="0.48"/>
<circle cx="148.7" cy="289.0" r="1.8" fill="url(#dg5)" opacity="0.16"/>
<circle cx="126.2" cy="240.9" r="1.9" fill="url(#dg5)" opacity="0.38"/>
<circle cx="154.2" cy="246.2" r="2.9" fill="url(#dg1)" opacity="0.18"/>
<circle cx="114.9" cy="166.5" r="1.7" fill="url(#dg2)" opacity="0.35"/>
<circle cx="134.0" cy="203.1" r="2.7" fill="url(#dg3)" opacity="0.33"/>
<circle cx="279.2" cy="110.5" r="1.9" fill="url(#dg0)" opacity="0.49"/>
<circle cx="276.4" cy="235.7" r="1.9" fill="url(#dg2)" opacity="0.19"/>
<circle cx="179.3" cy="281.1" r="2.4" fill="url(#dg2)" opacity="0.45"/>
<circle cx="175.3" cy="133.5" r="2.9" fill="url(#dg5)" opacity="0.92"/>
<circle cx="161.4" cy="104.3" r="1.8" fill="url(#dg1)" opacity="0.44"/>
<circle cx="282.2" cy="98.5" r="2.2" fill="url(#dg3)" opacity="0.17"/>
<circle cx="80.3" cy="165.3" r="1.8" fill="url(#dg0)" opacity="0.45"/>
<circle cx="196.2" cy="238.0" r="2.0" fill="url(#dg5)" opacity="0.27"/>
<circle cx="265.6" cy="215.5" r="2.2" fill="url(#dg4)" opacity="0.24"/>
<circle cx="279.7" cy="196.7" r="2.5" fill="url(#dg4)" opacity="0.46"/>
<circle cx="110.1" cy="200.4" r="3.0" fill="url(#dg2)" opacity="0.48"/>
<circle cx="142.6" cy="210.1" r="2.2" fill="url(#dg5)" opacity="0.25"/>
<circle cx="95.9" cy="237.9" r="2.1" fill="url(#dg4)" opacity="0.91"/>
<circle cx="247.6" cy="230.2" r="2.6" fill="url(#dg5)" opacity="0.24"/>
<circle cx="198.8" cy="226.2" r="2.2" fill="url(#dg0)" opacity="0.37"/>
<circle cx="88.3" cy="123.5" r="1.6" fill="url(#dg4)" opacity="0.18"/>
<circle cx="247.5" cy="142.7" r="2.8" fill="url(#dg0)" opacity="0.97"/>
<circle cx="183.7" cy="183.0" r="2.4" fill="url(#dg0)" opacity="0.32"/>
<circle cx="137.7" cy="270.2" r="2.3" fill="url(#dg2)" opacity="0.38"/>
<circle cx="223.7" cy="187.2" r="2.0" fill="url(#dg5)" opacity="0.39"/>
<circle cx="246.9" cy="243.0" r="2.7" fill="url(#dg1)" opacity="0.82"/>
<circle cx="229.0" cy="102.7" r="2.7" fill="url(#dg4)" opacity="0.31"/>
<circle cx="213.9" cy="235.4" r="2.2" fill="url(#dg5)" opacity="0.49"/>
<circle cx="109.4" cy="148.0" r="2.0" fill="url(#dg3)" opacity="0.22"/>
<circle cx="224.7" cy="252.8" r="3.0" fill="url(#dg4)" opacity="0.41"/>
<circle cx="219.3" cy="185.1" r="2.2" fill="url(#dg3)" opacity="0.46"/>
<circle cx="197.7" cy="291.7" r="2.5" fill="url(#dg3)" opacity="0.90"/>
<circle cx="83.4" cy="279.1" r="2.3" fill="url(#dg1)" opacity="0.87"/>
<circle cx="100.4" cy="125.6" r="2.2" fill="url(#dg3)" opacity="0.72"/>
<circle cx="214.7" cy="237.7" r="2.9" fill="url(#dg2)" opacity="0.17"/>
<circle cx="80.7" cy="205.4" r="2.4" fill="url(#dg2)" opacity="0.42"/>
<circle cx="146.9" cy="152.1" r="2.3" fill="url(#dg3)" opacity="0.68"/>
<circle cx="227.0" cy="104.0" r="2.7" fill="url(#dg4)" opacity="0.72"/>
<circle cx="200.2" cy="144.1" r="2.1" fill="url(#dg0)" opacity="0.49"/>
<circle cx="138.7" cy="274.1" r="2.8" fill="url(#dg4)" opacity="0.29"/>
<circle cx="125.7" cy="193.0" r="2.9" fill="url(#dg0)" opacity="0.32"/>
<circle cx="164.7" cy="225.7" r="2.7" fill="url(#dg4)" opacity="0.24"/>
<circle cx="191.7" cy="303.0" r="2.3" fill="url(#dg1)" opacity="1.00"/>
<circle cx="207.6" cy="132.0" r="3.0" fill="url(#dg5)" opacity="0.48"/>
<circle cx="132.8" cy="261.0" r="1.7" fill="url(#dg0)" opacity="0.30"/>
<circle cx="98.0" cy="193.2" r="2.9" fill="url(#dg0)" opacity="0.15"/>
<circle cx="175.2" cy="222.7" r="2.8" fill="url(#dg3)" opacity="0.42"/>
<circle cx="127.8" cy="264.7" r="1.9" fill="url(#dg4)" opacity="0.18"/>
<circle cx="196.6" cy="144.9" r="2.4" fill="url(#dg3)" opacity="0.68"/>
<circle cx="159.3" cy="191.9" r="1.7" fill="url(#dg1)" opacity="0.32"/>
<circle cx="201.7" cy="159.7" r="3.0" fill="url(#dg0)" opacity="0.16"/>
<circle cx="255.1" cy="245.0" r="2.4" fill="url(#dg5)" opacity="0.46"/>
<circle cx="130.5" cy="259.7" r="2.6" fill="url(#dg3)" opacity="0.88"/>
<circle cx="119.1" cy="184.9" r="1.9" fill="url(#dg0)" opacity="0.26"/>
<circle cx="241.6" cy="189.1" r="2.3" fill="url(#dg4)" opacity="0.28"/>
<circle cx="268.6" cy="298.6" r="2.7" fill="url(#dg3)" opacity="0.18"/>
<circle cx="123.9" cy="141.5" r="2.4" fill="url(#dg4)" opacity="0.38"/>
<circle cx="168.8" cy="230.7" r="1.9" fill="url(#dg0)" opacity="0.49"/>
<circle cx="148.7" cy="243.0" r="1.6" fill="url(#dg3)" opacity="0.30"/>
<circle cx="94.5" cy="173.2" r="2.8" fill="url(#dg2)" opacity="0.22"/>
<circle cx="271.8" cy="106.0" r="2.4" fill="url(#dg1)" opacity="0.29"/>
<circle cx="202.3" cy="243.1" r="2.7" fill="url(#dg5)" opacity="0.32"/>
<circle cx="130.2" cy="236.6" r="2.2" fill="url(#dg1)" opacity="0.20"/>
<circle cx="243.3" cy="161.7" r="2.6" fill="url(#dg0)" opacity="0.85"/>
<circle cx="188.9" cy="197.5" r="1.8" fill="url(#dg5)" opacity="0.32"/>
<circle cx="180.1" cy="283.9" r="3.0" fill="url(#dg5)" opacity="0.86"/>
<circle cx="174.3" cy="204.8" r="3.0" fill="url(#dg4)" opacity="0.75"/>
<circle cx="168.3" cy="104.3" r="1.6" fill="url(#dg4)" opacity="0.39"/>
<circle cx="253.6" cy="173.3" r="2.0" fill="url(#dg2)" opacity="0.33"/>
<circle cx="191.3" cy="177.0" r="2.2" fill="url(#dg2)" opacity="0.44"/>
<circle cx="206.8" cy="136.8" r="1.6" fill="url(#dg0)" opacity="0.16"/>
<circle cx="116.2" cy="97.8" r="1.7" fill="url(#dg4)" opacity="0.94"/>
<circle cx="260.3" cy="137.8" r="2.6" fill="url(#dg5)" opacity="0.43"/>
<circle cx="270.0" cy="271.2" r="2.6" fill="url(#dg0)" opacity="0.43"/>
<circle cx="197.9" cy="221.5" r="3.0" fill="url(#dg1)" opacity="0.36"/>
<circle cx="143.9" cy="229.5" r="2.9" fill="url(#dg3)" opacity="0.21"/>
<circle cx="114.3" cy="218.0" r="2.7" fill="url(#dg3)" opacity="0.40"/>
<circle cx="121.6" cy="278.9" r="2.8" fill="url(#dg1)" opacity="0.17"/>
<circle cx="181.3" cy="234.0" r="2.8" fill="url(#dg5)" opacity="0.94"/>
<circle cx="192.1" cy="216.0" r="1.7" fill="url(#dg0)" opacity="0.42"/>
<circle cx="181.0" cy="205.5" r="2.1" fill="url(#dg0)" opacity="0.47"/>
<circle cx="207.5" cy="209.8" r="1.7" fill="url(#dg1)" opacity="0.26"/>
<circle cx="175.8" cy="154.2" r="2.4" fill="url(#dg2)" opacity="0.65"/>
<circle cx="274.2" cy="156.4" r="1.6" fill="url(#dg2)" opacity="0.36"/>
<circle cx="132.9" cy="117.1" r="2.8" fill="url(#dg3)" opacity="0.22"/>
<circle cx="192.5" cy="278.4" r="2.8" fill="url(#dg5)" opacity="0.40"/>
<circle cx="127.6" cy="265.1" r="2.1" fill="url(#dg2)" opacity="0.34"/>
<circle cx="189.9" cy="259.2" r="2.8" fill="url(#dg1)" opacity="0.75"/>
<circle cx="159.4" cy="229.6" r="1.7" fill="url(#dg3)" opacity="0.72"/>
<circle cx="262.3" cy="269.2" r="2.6" fill="url(#dg5)" opacity="0.48"/>
<circle cx="94.5" cy="198.8" r="1.9" fill="url(#dg4)" opacity="0.47"/>
<circle cx="255.1" cy="109.0" r="1.9" fill="url(#dg2)" opacity="0.33"/>
<circle cx="141.8" cy="274.6" r="2.3" fill="url(#dg0)" opacity="0.19"/>
<circle cx="261.8" cy="261.3" r="2.6" fill="url(#dg0)" opacity="0.50"/>
<circle cx="268.2" cy="217.7" r="2.4" fill="url(#dg0)" opacity="0.21"/>
<circle cx="175.0" cy="282.7" r="2.5" fill="url(#dg1)" opacity="0.38"/>
<circle cx="250.2" cy="301.4" r="2.9" fill="url(#dg4)" opacity="0.73"/>
<circle cx="216.6" cy="138.5" r="1.7" fill="url(#dg2)" opacity="0.49"/>
<circle cx="195.5" cy="114.7" r="2.5" fill="url(#dg2)" opacity="0.93"/>
<circle cx="123.2" cy="128.2" r="2.1" fill="url(#dg5)" opacity="0.20"/>
<circle cx="118.5" cy="99.7" r="1.8" fill="url(#dg3)" opacity="0.49"/>
<circle cx="248.6" cy="282.8" r="2.6" fill="url(#dg2)" opacity="0.37"/>
<circle cx="276.7" cy="102.6" r="2.4" fill="url(#dg3)" opacity="0.38"/>
<circle cx="158.6" cy="229.6" r="2.2" fill="url(#dg5)" opacity="0.23"/>
<circle cx="135.1" cy="286.3" r="2.5" fill="url(#dg0)" opacity="0.89"/>
<circle cx="157.1" cy="290.1" r="2.5" fill="url(#dg0)" opacity="0.38"/>
<circle cx="210.4" cy="173.9" r="2.6" fill="url(#dg3)" opacity="0.79"/>
<circle cx="201.8" cy="119.0" r="2.0" fill="url(#dg0)" opacity="0.99"/>
<circle cx="155.0" cy="162.8" r="1.8" fill="url(#dg4)" opacity="0.36"/>
<circle cx="119.0" cy="95.8" r="2.5" fill="url(#dg5)" opacity="0.23"/>
<circle cx="115.9" cy="245.7" r="1.7" fill="url(#dg0)" opacity="0.78"/>
<circle cx="123.6" cy="185.0" r="2.1" fill="url(#dg1)" opacity="0.40"/>
<circle cx="86.1" cy="266.9" r="1.8" fill="url(#dg1)" opacity="0.46"/>
<circle cx="127.1" cy="229.4" r="1.8" fill="url(#dg5)" opacity="0.95"/>
<circle cx="204.7" cy="286.0" r="1.7" fill="url(#dg0)" opacity="0.71"/>
<circle cx="172.1" cy="185.3" r="1.7" fill="url(#dg4)" opacity="0.71"/>
<circle cx="190.5" cy="172.3" r="1.8" fill="url(#dg4)" opacity="0.18"/>
<circle cx="76.2" cy="158.0" r="3.0" fill="url(#dg0)" opacity="0.77"/>
<circle cx="77.0" cy="280.0" r="2.4" fill="url(#dg3)" opacity="0.75"/>
<circle cx="218.3" cy="127.1" r="2.7" fill="url(#dg2)" opacity="0.19"/>
<circle cx="215.8" cy="148.9" r="2.0" fill="url(#dg1)" opacity="0.42"/>
<circle cx="225.8" cy="287.8" r="1.9" fill="url(#dg3)" opacity="0.27"/>
</g>
<g filter="url(#b2)">
<circle cx="159" cy="90" r="2.7" fill="#2a58b8" opacity="0.85"/>
<circle cx="159" cy="90" r="1.3" fill="#2a9ccc" opacity="0.9"/>
<circle cx="202.5" cy="91.5" r="2.7" fill="#2a58b8" opacity="0.85"/>
<circle cx="202.5" cy="91.5" r="1.3" fill="#2a9ccc" opacity="0.9"/>
<circle cx="274" cy="87.5" r="2.0" fill="#2a58b8" opacity="0.85"/>
<circle cx="274" cy="87.5" r="0.9" fill="#2a9ccc" opacity="0.9"/>
<circle cx="106" cy="104" r="1.8" fill="#2a58b8" opacity="0.85"/>
<circle cx="106" cy="104" r="0.8" fill="#2a9ccc" opacity="0.9"/>
<circle cx="248.5" cy="118.5" r="2.1" fill="#2a58b8" opacity="0.85"/>
<circle cx="248.5" cy="118.5" r="1.0" fill="#2a9ccc" opacity="0.9"/>
<circle cx="87.5" cy="132.5" r="2.0" fill="#2a58b8" opacity="0.85"/>
<circle cx="87.5" cy="132.5" r="0.9" fill="#2a9ccc" opacity="0.9"/>
<circle cx="161" cy="142.5" r="2.0" fill="#2a58b8" opacity="0.85"/>
<circle cx="161" cy="142.5" r="0.9" fill="#2a9ccc" opacity="0.9"/>
<circle cx="150" cy="148.5" r="2.3" fill="#2a58b8" opacity="0.85"/>
<circle cx="150" cy="148.5" r="1.1" fill="#2a9ccc" opacity="0.9"/>
<circle cx="218.5" cy="161" r="1.7" fill="#2a58b8" opacity="0.85"/>
<circle cx="218.5" cy="161" r="0.7" fill="#2a9ccc" opacity="0.9"/>
<circle cx="277.5" cy="180" r="1.9" fill="#2a58b8" opacity="0.85"/>
<circle cx="277.5" cy="180" r="0.8" fill="#2a9ccc" opacity="0.9"/>
<circle cx="78.5" cy="189" r="1.8" fill="#2a58b8" opacity="0.85"/>
<circle cx="78.5" cy="189" r="0.8" fill="#2a9ccc" opacity="0.9"/>
<circle cx="106" cy="210" r="2.1" fill="#2a58b8" opacity="0.85"/>
<circle cx="106" cy="210" r="1.0" fill="#2a9ccc" opacity="0.9"/>
<circle cx="243.5" cy="212.5" r="2.2" fill="#2a58b8" opacity="0.85"/>
<circle cx="243.5" cy="212.5" r="1.0" fill="#2a9ccc" opacity="0.9"/>
<circle cx="194" cy="235" r="2.1" fill="#2a58b8" opacity="0.85"/>
<circle cx="194" cy="235" r="1.0" fill="#2a9ccc" opacity="0.9"/>
<circle cx="82.5" cy="266.5" r="1.9" fill="#2a58b8" opacity="0.85"/>
<circle cx="82.5" cy="266.5" r="0.8" fill="#2a9ccc" opacity="0.9"/>
<circle cx="261" cy="281.5" r="2.2" fill="#2a58b8" opacity="0.85"/>
<circle cx="261" cy="281.5" r="1.0" fill="#2a9ccc" opacity="0.9"/>
<circle cx="104" cy="296.5" r="2.2" fill="#2a58b8" opacity="0.85"/>
<circle cx="104" cy="296.5" r="1.0" fill="#2a9ccc" opacity="0.9"/>
<circle cx="187.5" cy="297.5" r="1.9" fill="#2a58b8" opacity="0.85"/>
<circle cx="187.5" cy="297.5" r="0.8" fill="#2a9ccc" opacity="0.9"/>
<circle cx="131" cy="306" r="1.9" fill="#2a58b8" opacity="0.85"/>
<circle cx="131" cy="306" r="0.8" fill="#2a9ccc" opacity="0.9"/>
<circle cx="250" cy="105" r="1.8" fill="#2a58b8" opacity="0.85"/>
<circle cx="250" cy="105" r="0.8" fill="#2a9ccc" opacity="0.9"/>
<circle cx="127" cy="114" r="1.7" fill="#2a58b8" opacity="0.85"/>
<circle cx="127" cy="114" r="0.7" fill="#2a9ccc" opacity="0.9"/>
<circle cx="230" cy="93" r="1.8" fill="#2a58b8" opacity="0.85"/>
<circle cx="230" cy="93" r="0.8" fill="#2a9ccc" opacity="0.9"/>
<circle cx="292" cy="277" r="2.0" fill="#2a58b8" opacity="0.85"/>
<circle cx="292" cy="277" r="0.9" fill="#2a9ccc" opacity="0.9"/>
<circle cx="232" cy="285" r="1.8" fill="#2a58b8" opacity="0.85"/>
<circle cx="232" cy="285" r="0.8" fill="#2a9ccc" opacity="0.9"/>
<circle cx="249" cy="256" r="1.7" fill="#2a58b8" opacity="0.85"/>
<circle cx="249" cy="256" r="0.7" fill="#2a9ccc" opacity="0.9"/>
<circle cx="224" cy="120" r="1.5" fill="#2a58b8" opacity="0.85"/>
<circle cx="224" cy="120" r="0.6" fill="#2a9ccc" opacity="0.9"/>
<circle cx="176" cy="257" r="1.7" fill="#2a58b8" opacity="0.85"/>
<circle cx="176" cy="257" r="0.7" fill="#2a9ccc" opacity="0.9"/>
<circle cx="120" cy="170" r="1.6" fill="#2a58b8" opacity="0.85"/>
<circle cx="120" cy="170" r="0.7" fill="#2a9ccc" opacity="0.9"/>
<circle cx="269" cy="150" r="1.6" fill="#2a58b8" opacity="0.85"/>
<circle cx="269" cy="150" r="0.7" fill="#2a9ccc" opacity="0.9"/>
<ellipse cx="158.6" cy="90" rx="2.6" ry="1.5" fill="#22b4a6"/><ellipse cx="202.8" cy="92" rx="2.2" ry="1.4" fill="#22b4a6"/>
</g>
</g>
<circle cx="134.2" cy="306.3" r="1.3" fill="#e03060" filter="url(#b2)"/>
<g stroke="#efdcf5" stroke-width="1.2" fill="none"><path d="M172.100 199H196.300M183.800 186.600V210.400"/><circle cx="183.800" cy="199" r="1.400" stroke-width="0.700" fill="#efdcf5"/></g>
<path d="M64.7 316.2v4.5M64.7 82.2v-4.5M78.5 316.2v2.5M78.5 82.2v-2.5M92.3 316.2v2.5M92.3 82.2v-2.5M106.0 316.2v2.5M106.0 82.2v-2.5M119.8 316.2v2.5M119.8 82.2v-2.5M133.6 316.2v4.5M133.6 82.2v-4.5M147.4 316.2v2.5M147.4 82.2v-2.5M161.2 316.2v2.5M161.2 82.2v-2.5M174.9 316.2v2.5M174.9 82.2v-2.5M188.7 316.2v2.5M188.7 82.2v-2.5M202.5 316.2v4.5M202.5 82.2v-4.5M216.3 316.2v2.5M216.3 82.2v-2.5M230.1 316.2v2.5M230.1 82.2v-2.5M243.8 316.2v2.5M243.8 82.2v-2.5M257.6 316.2v2.5M257.6 82.2v-2.5M271.4 316.2v4.5M271.4 82.2v-4.5M285.2 316.2v2.5M285.2 82.2v-2.5M299.0 316.2v2.5M299.0 82.2v-2.5M64.7 316.2h-4.5M301.0 316.2h4.5M64.7 302.5h-2.5M301.0 302.5h2.5M64.7 288.8h-2.5M301.0 288.8h2.5M64.7 275.1h-2.5M301.0 275.1h2.5M64.7 261.5h-2.5M301.0 261.5h2.5M64.7 247.8h-4.5M301.0 247.8h4.5M64.7 234.1h-2.5M301.0 234.1h2.5M64.7 220.4h-2.5M301.0 220.4h2.5M64.7 206.7h-2.5M301.0 206.7h2.5M64.7 193.0h-2.5M301.0 193.0h2.5M64.7 179.3h-4.5M301.0 179.3h4.5M64.7 165.6h-2.5M301.0 165.6h2.5M64.7 152.0h-2.5M301.0 152.0h2.5M64.7 138.3h-2.5M301.0 138.3h2.5M64.7 124.6h-2.5M301.0 124.6h2.5M64.7 110.9h-4.5M301.0 110.9h4.5M64.7 97.2h-2.5M301.0 97.2h2.5M64.7 83.5h-2.5M301.0 83.5h2.5" stroke="#b9c0cd" stroke-width="0.8" fill="none"/>
<g font-family='"Liberation Sans","Noto Sans CJK SC",sans-serif' font-size="7.8" fill="#4a4a4a">
<text x="64.7" y="329.9" text-anchor="middle">0</text>
<text x="57.6" y="319.0" text-anchor="end">0</text>
<text x="133.6" y="329.9" text-anchor="middle">50</text>
<text x="57.6" y="250.6" text-anchor="end">50</text>
<text x="202.5" y="329.9" text-anchor="middle">100</text>
<text x="57.6" y="182.1" text-anchor="end">100</text>
<text x="271.4" y="329.9" text-anchor="middle">150</text>
<text x="57.6" y="113.7" text-anchor="end">150</text>
</g>
<text x="183" y="341.2" text-anchor="middle" font-family='"Liberation Sans","Noto Sans CJK SC",sans-serif' font-size="9.1" fill="#444">X (mm)</text>
<text transform="translate(36.2,199) rotate(-90)" text-anchor="middle" font-family='"Liberation Sans","Noto Sans CJK SC",sans-serif' font-size="9.1" fill="#444">Y (mm)</text>
<rect x="323.6" y="82.2" width="7.6" height="234.1" fill="url(#cb)"/>
<text transform="translate(320.3,96) rotate(-90)" font-family='"Liberation Sans","Noto Sans CJK SC",sans-serif' font-size="7.6" fill="#444" textLength="29.5" lengthAdjust="spacingAndGlyphs">1.16×10<tspan dy="-2.8" font-size="5">6</tspan></text>
<text transform="translate(320.3,155) rotate(-90)" font-family='"Liberation Sans","Noto Sans CJK SC",sans-serif' font-size="7.6" fill="#444" textLength="29.5" lengthAdjust="spacingAndGlyphs">1.03×10<tspan dy="-2.8" font-size="5">6</tspan></text>
<text transform="translate(320.3,214.5) rotate(-90)" font-family='"Liberation Sans","Noto Sans CJK SC",sans-serif' font-size="7.6" fill="#444" textLength="29.5" lengthAdjust="spacingAndGlyphs">8.86×10<tspan dy="-2.8" font-size="5">5</tspan></text>
<text transform="translate(320.3,273) rotate(-90)" font-family='"Liberation Sans","Noto Sans CJK SC",sans-serif' font-size="7.6" fill="#444" textLength="29.5" lengthAdjust="spacingAndGlyphs">7.50×10<tspan dy="-2.8" font-size="5">5</tspan></text>
<text transform="translate(320.3,331) rotate(-90)" font-family='"Liberation Sans","Noto Sans CJK SC",sans-serif' font-size="7.6" fill="#444" textLength="29.5" lengthAdjust="spacingAndGlyphs">6.12×10<tspan dy="-2.8" font-size="5">5</tspan></text>
<path d="M323.6 95.7h-2M323.6 82.5h-1.6M323.6 154.2h-2M323.6 141.0h-1.6M323.6 212.7h-2M323.6 199.5h-1.6M323.6 271.2h-2M323.6 258.0h-1.6" stroke="#8e96a6" stroke-width="0.8"/>
</svg>
<svg style="position:absolute;left:0;top:0" width="736" height="550" viewBox="0 0 736 550">
<path d="M416.0 304.6v-2.6M416.0 69.0v2.6M429.1 304.6v-2.6M429.1 69.0v2.6M442.3 304.6v-5M442.3 69.0v5M455.5 304.6v-2.6M455.5 69.0v2.6M468.6 304.6v-2.6M468.6 69.0v2.6M481.8 304.6v-2.6M481.8 69.0v2.6M494.9 304.6v-5M494.9 69.0v5M508.1 304.6v-2.6M508.1 69.0v2.6M521.3 304.6v-2.6M521.3 69.0v2.6M534.4 304.6v-2.6M534.4 69.0v2.6M547.6 304.6v-5M547.6 69.0v5M560.8 304.6v-2.6M560.8 69.0v2.6M573.9 304.6v-2.6M573.9 69.0v2.6M587.1 304.6v-2.6M587.1 69.0v2.6M600.2 304.6v-5M600.2 69.0v5M613.4 304.6v-2.6M613.4 69.0v2.6M626.6 304.6v-2.6M626.6 69.0v2.6M639.7 304.6v-2.6M639.7 69.0v2.6M652.9 304.6v-5M652.9 69.0v5M666.1 304.6v-2.6M666.1 69.0v2.6M679.2 304.6v-2.6M679.2 69.0v2.6M692.4 304.6v-2.6M692.4 69.0v2.6M401.0 293.6h5.5M705.5 293.6h-5.5M401.0 282.1h2.8M705.5 282.1h-2.8M401.0 270.7h2.8M705.5 270.7h-2.8M401.0 259.2h2.8M705.5 259.2h-2.8M401.0 247.8h5.5M705.5 247.8h-5.5M401.0 236.3h2.8M705.5 236.3h-2.8M401.0 224.8h2.8M705.5 224.8h-2.8M401.0 213.4h2.8M705.5 213.4h-2.8M401.0 201.9h5.5M705.5 201.9h-5.5M401.0 190.5h2.8M705.5 190.5h-2.8M401.0 179.0h2.8M705.5 179.0h-2.8M401.0 167.5h2.8M705.5 167.5h-2.8M401.0 156.1h5.5M705.5 156.1h-5.5M401.0 144.6h2.8M705.5 144.6h-2.8M401.0 133.2h2.8M705.5 133.2h-2.8M401.0 121.7h2.8M705.5 121.7h-2.8M401.0 110.2h5.5M705.5 110.2h-5.5M401.0 98.8h2.8M705.5 98.8h-2.8M401.0 87.3h2.8M705.5 87.3h-2.8M401.0 75.9h2.8M705.5 75.9h-2.8" stroke="#8f98a9" stroke-width="0.9" fill="none"/>
<rect x="461.9" y="69.0" width="151.9" height="235.6" fill="#f1b0aa"/>
<path d="M401.8 287.2 L402.3 287.1 L402.8 287.2 L403.3 287.1 L403.8 287.5 L404.3 287.3 L404.8 288.8 L405.3 288.3 L405.8 287.6 L406.3 288.2 L406.8 287.9 L407.3 289.2 L407.8 288.7 L408.3 289.2 L408.8 288.8 L409.3 288.9 L409.8 289.8 L410.3 289.6 L410.8 289.6 L411.3 288.7 L411.8 289.0 L412.3 290.0 L412.8 289.1 L413.3 290.2 L413.8 289.5 L414.3 290.3 L414.8 290.6 L415.3 289.3 L415.8 290.4 L416.3 290.5 L416.8 289.3 L417.3 289.6 L417.8 290.5 L418.3 289.6 L418.8 290.3 L419.3 290.1 L419.8 290.9 L420.3 289.8 L420.8 290.3 L421.3 289.9 L421.8 290.0 L422.3 291.0 L422.8 291.0 L423.3 291.3 L423.8 291.4 L424.3 291.6 L424.8 291.2 L425.3 290.8 L425.8 291.8 L426.3 290.8 L426.8 291.4 L427.3 291.4 L427.8 290.7 L428.3 291.3 L428.8 291.5 L429.3 291.3 L429.8 291.0 L430.3 292.1 L430.8 290.7 L431.3 292.2 L431.8 291.1 L432.3 291.0 L432.8 292.3 L433.3 291.1 L433.8 291.8 L434.3 291.5 L434.8 292.4 L435.3 292.4 L435.8 292.2 L436.3 291.0 L436.8 292.2 L437.3 291.4 L437.8 291.1 L438.3 291.1 L438.8 292.1 L439.3 292.1 L439.8 291.9 L440.3 291.5 L440.8 292.6 L441.3 291.6 L441.8 291.5 L442.3 291.4 L442.8 292.7 L443.3 291.4 L443.8 292.7 L444.3 292.3 L444.8 291.9 L445.3 291.5 L445.8 292.4 L446.3 291.5 L446.8 292.1 L447.3 292.5 L447.8 292.5 L448.3 292.7 L448.8 292.9 L449.3 292.8 L449.8 292.0 L450.3 291.5 L450.8 292.8 L451.3 293.0 L451.8 291.6 L452.3 292.3 L452.8 292.5 L453.3 292.8 L453.8 292.2 L454.3 291.9 L454.8 292.5 L455.3 292.5 L455.8 293.1 L456.3 291.8 L456.8 293.1 L457.3 292.4 L457.8 291.9 L458.3 293.0 L458.8 292.1 L459.3 291.7 L459.8 292.2 L460.3 291.9 L460.8 293.0 L461.3 292.5 L461.8 292.9 L462.3 291.8 L462.8 292.6 L463.3 292.3 L463.8 291.5 L464.3 291.7 L464.8 291.4 L465.3 292.2 L465.8 292.1 L466.3 291.8 L466.8 292.1 L467.3 292.4 L467.8 292.2 L468.3 292.6 L468.8 292.3 L469.3 291.3 L469.8 291.4 L470.3 291.9 L470.8 292.2 L471.3 292.4 L471.8 292.9 L472.3 292.6 L472.8 291.9 L473.3 291.8 L473.8 292.6 L474.3 292.0 L474.8 292.1 L475.3 292.2 L475.8 292.3 L476.3 292.2 L476.8 292.8 L477.3 292.3 L477.8 293.0 L478.3 292.7 L478.8 292.3 L479.3 292.4 L479.8 293.1 L480.3 292.1 L480.8 292.5 L481.3 292.6 L481.8 293.5 L482.3 292.7 L482.8 293.2 L483.3 292.5 L483.8 292.9 L484.3 292.3 L484.8 292.6 L485.3 292.3 L485.8 293.0 L486.3 292.6 L486.8 292.4 L487.3 292.3 L487.8 293.1 L488.3 292.3 L488.8 292.3 L489.3 292.5 L489.8 292.1 L490.3 292.1 L490.8 292.8 L491.3 292.8 L491.8 293.4 L492.3 292.3 L492.8 292.2 L493.3 292.9 L493.8 292.5 L494.3 292.5 L494.8 292.5 L495.3 293.4 L495.8 292.4 L496.3 292.7 L496.8 292.6 L497.3 293.0 L497.8 292.7 L498.3 292.4 L498.8 292.6 L499.3 292.5 L499.8 293.6 L500.3 293.4 L500.8 292.9 L501.3 292.6 L501.8 293.3 L502.3 292.5 L502.8 292.6 L503.3 293.5 L503.8 292.8 L504.3 293.2 L504.8 293.5 L505.3 293.4 L505.8 293.1 L506.3 293.3 L506.8 293.2 L507.3 293.5 L507.8 292.8 L508.3 292.9 L508.8 292.5 L509.3 292.5 L509.8 293.0 L510.3 292.0 L510.8 293.4 L511.3 292.7 L511.8 292.9 L512.3 292.6 L512.8 293.0 L513.3 291.9 L513.8 292.5 L514.3 293.0 L514.8 292.0 L515.3 292.7 L515.8 291.9 L516.3 292.1 L516.8 291.6 L517.3 290.9 L517.8 290.9 L518.3 291.3 L518.8 290.5 L519.3 290.4 L519.8 290.5 L520.3 290.3 L520.8 289.0 L521.3 288.3 L521.8 286.7 L522.3 285.3 L522.8 284.0 L523.3 281.7 L523.8 276.7 L524.3 271.4 L524.8 259.7 L525.3 237.2 L525.8 193.0 L526.3 116.4 L526.3 111.4 L526.7 79.1 L526.8 85.3 L527.0 111.7 L527.3 160.2 L527.8 220.6 L528.3 249.9 L528.8 266.2 L529.3 273.9 L529.8 279.1 L530.3 282.9 L530.8 285.7 L531.3 286.2 L531.8 288.1 L532.3 289.1 L532.8 289.9 L533.3 289.4 L533.8 290.6 L534.3 291.3 L534.8 291.3 L535.3 292.1 L535.8 291.5 L536.3 292.0 L536.8 292.3 L537.3 291.7 L537.8 291.8 L538.3 293.1 L538.8 292.4 L539.3 292.9 L539.8 291.9 L540.3 292.2 L540.8 293.1 L541.3 293.1 L541.8 293.4 L542.3 292.1 L542.8 293.2 L543.3 292.8 L543.8 293.0 L544.3 292.8 L544.8 292.9 L545.3 292.7 L545.8 293.7 L546.3 292.7 L546.8 293.4 L547.3 293.1 L547.8 293.4 L548.3 293.5 L548.8 293.2 L549.3 293.3 L549.8 293.5 L550.3 292.9 L550.8 293.1 L551.3 294.0 L551.8 293.7 L552.3 293.4 L552.8 292.7 L553.3 292.7 L553.8 293.3 L554.3 294.1 L554.8 292.9 L555.3 293.5 L555.8 293.3 L556.3 293.1 L556.8 293.2 L557.3 293.4 L557.8 292.8 L558.3 293.6 L558.8 293.6 L559.3 292.9 L559.8 293.9 L560.3 293.8 L560.8 292.9 L561.3 294.1 L561.8 292.9 L562.3 293.2 L562.8 293.6 L563.3 293.8 L563.8 293.0 L564.3 292.8 L564.8 294.0 L565.3 293.5 L565.8 293.4 L566.3 293.5 L566.8 293.8 L567.3 294.0 L567.8 293.4 L568.3 293.0 L568.8 294.2 L569.3 293.9 L569.8 293.0 L570.3 293.1 L570.8 293.3 L571.3 294.3 L571.8 293.2 L572.3 292.8 L572.8 292.8 L573.3 293.2 L573.8 294.2 L574.3 293.0 L574.8 294.0 L575.3 293.3 L575.8 292.8 L576.3 293.2 L576.8 294.1 L577.3 293.9 L577.8 292.9 L578.3 294.1 L578.8 293.4 L579.3 293.7 L579.8 294.1 L580.3 293.4 L580.8 294.3 L581.3 294.2 L581.8 293.7 L582.3 294.2 L582.8 294.2 L583.3 293.4 L583.8 293.2 L584.3 292.9 L584.8 294.1 L585.3 293.6 L585.8 293.8 L586.3 293.4 L586.8 293.5 L587.3 292.8 L587.8 293.7 L588.3 294.2 L588.8 293.2 L589.3 294.1 L589.8 293.3 L590.3 293.5 L590.8 292.9 L591.3 293.4 L591.8 293.3 L592.3 293.9 L592.8 293.4 L593.3 293.9 L593.8 293.1 L594.3 293.5 L594.8 294.1 L595.3 293.9 L595.8 293.7 L596.3 293.1 L596.8 294.0 L597.3 293.2 L597.8 293.2 L598.3 294.1 L598.8 293.2 L599.3 294.1 L599.8 294.1 L600.3 293.3 L600.8 293.9 L601.3 292.9 L601.8 293.5 L602.3 293.7 L602.8 293.0 L603.3 294.2 L603.8 293.1 L604.3 294.1 L604.8 294.0 L605.3 292.7 L605.8 293.2 L606.3 293.9 L606.8 294.0 L607.3 292.7 L607.8 293.2 L608.3 292.9 L608.8 294.0 L609.3 293.2 L609.8 293.6 L610.3 293.8 L610.8 293.7 L611.3 293.2 L611.8 293.6 L612.3 293.6 L612.8 293.9 L613.3 292.9 L613.8 293.1 L614.3 292.9 L614.8 293.5 L615.3 292.8 L615.8 293.3 L616.3 293.2 L616.8 293.2 L617.3 293.0 L617.8 293.5 L618.3 294.0 L618.8 294.1 L619.3 293.8 L619.8 294.0 L620.3 292.7 L620.8 293.3 L621.3 292.9 L621.8 294.1 L622.3 293.3 L622.8 292.7 L623.3 293.1 L623.8 293.4 L624.3 293.3 L624.8 293.9 L625.3 293.8 L625.8 293.8 L626.3 293.5 L626.8 293.4 L627.3 292.7 L627.8 293.8 L628.3 293.6 L628.8 293.6 L629.3 293.8 L629.8 293.6 L630.3 293.6 L630.8 293.2 L631.3 293.8 L631.8 292.3 L632.3 293.0 L632.8 291.9 L633.3 292.0 L633.8 291.6 L634.3 291.5 L634.8 290.3 L635.3 291.1 L635.8 289.8 L636.3 289.9 L636.8 288.9 L637.3 288.5 L637.8 289.2 L638.3 288.9 L638.8 289.1 L639.3 288.6 L639.8 288.8 L640.3 288.3 L640.8 287.4 L641.3 288.3 L641.8 288.4 L642.3 288.1 L642.8 288.4 L643.3 287.7 L643.8 287.7 L644.3 288.6 L644.8 288.5 L645.3 287.9 L645.8 287.6 L646.3 288.2 L646.8 288.7 L647.3 288.1 L647.8 289.9 L648.3 290.1 L648.8 289.4 L649.3 290.5 L649.8 291.5 L650.3 291.2 L650.8 291.0 L651.3 292.1 L651.8 292.7 L652.3 293.3 L652.8 293.5 L653.3 292.3 L653.8 293.0 L654.3 292.4 L654.8 292.7 L655.2 269.5 L655.3 251.7 L655.5 237.1 L655.8 269.8 L655.8 269.5 L656.3 293.0 L656.8 293.3 L657.3 293.7 L657.8 293.8 L658.3 292.3 L658.8 293.5 L659.3 293.0 L659.8 293.2 L660.3 293.0 L660.9 293.7 L661.4 293.3 L661.9 293.6 L662.4 293.0 L662.9 292.4 L663.4 292.9 L663.9 292.5 L664.4 293.5 L664.9 293.8 L665.4 292.9 L665.9 293.0 L666.4 292.9 L666.9 293.2 L667.4 292.8 L667.9 292.6 L668.4 292.3 L668.9 293.3 L669.4 293.1 L669.9 292.5 L670.4 293.4 L670.9 293.6 L671.4 293.3 L671.9 293.6 L672.4 292.6 L672.9 292.5 L673.4 293.3 L673.9 293.6 L674.4 293.6 L674.9 293.4 L675.4 293.6 L675.9 293.1 L676.4 292.8 L676.9 293.4 L677.4 293.6 L677.9 292.7 L678.4 293.7 L678.9 293.4 L679.4 293.3 L679.9 293.2 L680.4 293.6 L680.9 293.1 L681.4 293.2 L681.9 292.6 L682.4 292.9 L682.9 292.3 L683.4 292.7 L683.9 292.5 L684.4 292.8 L684.9 293.0 L685.4 292.5 L685.9 292.7 L686.4 292.2 L686.9 292.6 L687.4 292.6 L687.9 293.3 L688.4 292.5 L688.9 293.1 L689.4 293.5 L689.9 293.6 L690.4 293.5 L690.9 293.3 L691.4 292.7 L691.9 293.3 L692.4 293.6 L692.9 292.5 L693.4 292.8 L693.9 293.7 L694.4 293.6 L694.9 293.5 L695.4 293.2 L695.9 292.4 L696.4 292.2 L696.9 292.8 L697.4 293.3 L697.9 293.0 L698.4 293.1 L698.9 293.2 L699.4 293.7 L699.9 292.8 L700.4 292.4 L700.9 292.6 L701.4 293.6 L701.9 292.9 L702.4 293.4 L702.9 292.6 L703.4 293.0 L703.9 292.2 L704.4 292.5" fill="none" stroke="#e2553a" stroke-width="1" stroke-linejoin="round"/>
<rect x="401.0" y="69.0" width="304.5" height="235.6" fill="none" stroke="#9ba3b3" stroke-width="1"/>
<g font-family='"Liberation Sans","Noto Sans CJK SC",sans-serif' font-size="7" fill="#666">
<text x="442.3" y="313.4" text-anchor="middle">200</text>
<text x="494.9" y="313.4" text-anchor="middle">400</text>
<text x="547.6" y="313.4" text-anchor="middle">600</text>
<text x="600.2" y="313.4" text-anchor="middle">800</text>
<text x="652.9" y="313.4" text-anchor="middle">1000</text>
<text x="396.5" y="296.2" text-anchor="end">600</text>
<text x="396.5" y="250.4" text-anchor="end">800</text>
<text x="396.5" y="204.5" text-anchor="end">1000</text>
<text x="396.5" y="158.7" text-anchor="end">1200</text>
<text x="396.5" y="112.8" text-anchor="end">1400</text>
</g>
<text x="553.4" y="325.2" text-anchor="middle" font-family='"Liberation Sans","Noto Sans CJK SC",sans-serif' font-weight="bold" font-size="7.75" fill="#222">DeltaWavelength (cm-1)</text>
<text transform="translate(357,187.5) rotate(-90)" text-anchor="middle" font-family='"Liberation Sans","Noto Sans CJK SC",sans-serif' font-weight="bold" font-size="7.8" fill="#222">Counts (a.u.)</text>
<text x="528.8" y="64.6" text-anchor="middle" font-family='"Liberation Sans","Noto Sans CJK SC",sans-serif' font-weight="bold" font-size="6.9" fill="#333">[50,50]</text>
</svg>
<div class="abs" style="left:29px;top:340px;width:309px;height:5.5px;background:#f2f3f5;"></div>
<!-- left status -->
<div class="inp" style="left:29.4px;top:344.6px;width:307.6px;height:12.8px;"><div style="position:absolute;left:2px;top:0.6px;font-size:8.6px;line-height:10px;transform:scaleX(0.81);transform-origin:0 0;"><span class="r">[</span>125<span class="p">.</span>851<span class="p">,</span>125<span class="p">.</span>434<span class="p">,</span>625234<span class="p">.</span>000<span class="q">]</span></div></div>
<!-- right status -->
<div class="inp" style="left:431.8px;top:344.6px;width:275px;height:12.8px;border-right:none;"></div>
<!-- row 1 buttons -->
<div class="tb" style="left:343.6px;top:361px;width:22.6px;height:26.4px;"></div>
<div class="tb" style="left:367.4px;top:361px;width:22.4px;height:26.4px;"></div>
<div class="btn" style="left:392.1px;top:362.2px;width:36.8px;height:25.2px;line-height:18.6px;">1<span class="p">.</span>处理<span class="q">-</span>&gt;</div>
<div class="btn" style="left:431.3px;top:362.2px;width:45.6px;height:25.2px;line-height:18.6px;">2<span class="p">.</span>归一化<span class="q">-</span>&gt;</div>
<div class="btn" style="left:479.2px;top:362.2px;width:36.8px;height:25.2px;line-height:18.6px;">3<span class="p">.</span>选区<span class="q">-</span>&gt;</div>
<div class="btn" style="left:518.8px;top:362.2px;width:44.2px;height:25.2px;line-height:18.6px;">4.谱峰拟合</div>
<div class="btn" style="left:565.4px;top:362.2px;width:40.4px;height:25.2px;line-height:18.6px;">5<span class="p">.</span>寿命拟合</div>
<svg class="abs" style="left:600px;top:350px" width="80" height="50" viewBox="0 0 80 50"><rect x="8.75" y="9.85" width="57.8" height="30.5" fill="#f4f9fd" stroke="#1777c0" stroke-width="2.7"/></svg>
<div class="btn" style="left:612px;top:362.2px;width:51.8px;height:25.2px;line-height:18.6px;">6<span class="p">.</span>主成份分析</div>
<div class="tb" style="left:669.2px;top:362.2px;width:18.2px;height:25.2px;"></div>
<div class="abs" style="left:690.9px;top:364.2px;width:15.7px;height:21.6px;background:#ebecef;border:1px solid #c9cbd0;border-right:none;box-sizing:border-box;"></div>
<!-- label -->
<div class="cj" style="left:343.6px;top:391.5px;font-size:7.3px;line-height:10px;">6<span class="p">.</span> 主成份分析 <span class="r">(</span>PCA<span class="q">)</span></div>
<!-- group 1 -->
<div class="gb" style="left:345.5px;top:403px;width:361.1px;height:28.8px;border-right:none;"></div>
<div class="cj" style="left:348.2px;top:412.5px;font-size:7.6px;line-height:11px;font-weight:600;">光谱预处理<span class="p">:</span></div>
<div class="btn" style="left:392.2px;top:405.8px;width:37.6px;height:22.6px;line-height:16.0px;font-weight:500;">光谱微分</div>
<div class="btn" style="left:432.5px;top:405.8px;width:69.4px;height:22.6px;line-height:16.0px;font-weight:500;">光谱融合<span class="r">(</span>Binning<span class="q">)</span></div>
<div class="cj" style="left:507px;top:413px;font-size:7px;line-height:10px;font-weight:bold;color:#444;font-family:'Liberation Sans',sans-serif;">&lt;</div>
<div class="abs" style="left:514px;top:412.8px;width:9.5px;height:8.8px;background:#d0d2d7;"></div>
<div class="cj" style="left:530.5px;top:404.5px;font-size:6.4px;line-height:9px;">2</div>
<div class="cj" style="left:502.3px;top:421.2px;font-size:7.2px;line-height:10px;font-weight:600;">融合窗口宽度</div>
<div class="cj" style="left:555.6px;top:413px;font-size:7px;line-height:10px;font-weight:bold;color:#444;font-family:'Liberation Sans',sans-serif;">&gt;</div>
<svg class="abs" style="left:555px;top:395px" width="75" height="45" viewBox="0 0 75 45"><rect x="6.8" y="6.6" width="56.7" height="28.8" fill="#f4fbf7" stroke="#14995a" stroke-width="2.6"/></svg>
<div class="btn" style="left:564.3px;top:403.3px;width:52.8px;height:25.8px;line-height:19.2px;font-weight:bold;font-size:7px;">开始PCA计算</div>
<div class="btn dis" style="left:620.8px;top:404.3px;width:45.2px;height:24.1px;line-height:17.5px;">导出PCA结果</div>

<div class="abs" style="left:392.5px;top:444.7px;width:314.1px;height:31.5px;background:#fff;"></div>
<div class="abs" style="left:392.5px;top:435.2px;width:314.1px;height:9.5px;background:#f3f4f7;border-top:1px solid #dfe1e5;border-bottom:1.3px solid #a9acb4;box-sizing:border-box;"></div>
<div class="abs" style="left:392.5px;top:435.2px;width:1px;height:41.0px;background:#dfe1e6;"></div>
<div class="cj" style="left:392.5px;top:434.7px;width:50.6px;text-align:center;font-size:6.5px;line-height:9px;color:#222;font-weight:500;">PC0</div>
<div class="abs" style="left:443.1px;top:435.2px;width:1px;height:41.0px;background:#dfe1e6;"></div>
<div class="cj" style="left:443.1px;top:434.7px;width:49.9px;text-align:center;font-size:6.5px;line-height:9px;color:#222;font-weight:500;">PC1</div>
<div class="abs" style="left:493.0px;top:435.2px;width:1px;height:41.0px;background:#dfe1e6;"></div>
<div class="cj" style="left:493.0px;top:434.7px;width:49.8px;text-align:center;font-size:6.5px;line-height:9px;color:#222;font-weight:500;">PC2</div>
<div class="abs" style="left:542.8px;top:435.2px;width:1px;height:41.0px;background:#dfe1e6;"></div>
<div class="cj" style="left:542.8px;top:434.7px;width:49.2px;text-align:center;font-size:6.5px;line-height:9px;color:#222;font-weight:500;">PC3</div>
<div class="abs" style="left:592.0px;top:435.2px;width:1px;height:41.0px;background:#dfe1e6;"></div>
<div class="cj" style="left:592.0px;top:434.7px;width:49.0px;text-align:center;font-size:6.5px;line-height:9px;color:#222;font-weight:500;">PC4</div>
<div class="abs" style="left:641.0px;top:435.2px;width:1px;height:41.0px;background:#dfe1e6;"></div>
<div class="cj" style="left:641.0px;top:434.7px;width:48.8px;text-align:center;font-size:6.5px;line-height:9px;color:#222;font-weight:500;">PC5</div>
<div class="abs" style="left:689.8px;top:435.2px;width:1px;height:41.0px;background:#dfe1e6;"></div>
<div class="abs" style="left:392.5px;top:455.6px;width:314.1px;height:1px;background:#dfe1e6;"></div>
<div class="abs" style="left:392.5px;top:466.0px;width:314.1px;height:1px;background:#dfe1e6;"></div>
<div class="abs" style="left:392.5px;top:476.2px;width:314.1px;height:1px;background:#dfe1e6;"></div>
<div class="abs" style="left:392.5px;top:444.7px;width:50.6px;height:10.9px;background:#0b79d0;"></div>
<div class="cj" style="left:394.0px;top:446.2px;width:49.1px;overflow:hidden;height:10px;"><div style="font-size:8.2px;line-height:10px;color:#cfe6fa;transform:scaleX(0.85);transform-origin:0 0;">0<span class="p">.</span>0000000</div></div>
<div class="cj" style="left:444.6px;top:446.2px;width:48.4px;overflow:hidden;height:10px;"><div style="font-size:8.2px;line-height:10px;color:#333;transform:scaleX(0.85);transform-origin:0 0;">0<span class="p">.</span>0000000</div></div>
<div class="cj" style="left:494.5px;top:446.2px;width:48.3px;overflow:hidden;height:10px;"><div style="font-size:8.2px;line-height:10px;color:#333;transform:scaleX(0.85);transform-origin:0 0;">0<span class="p">.</span>0000000</div></div>
<div class="cj" style="left:544.3px;top:446.2px;width:47.7px;overflow:hidden;height:10px;"><div style="font-size:8.2px;line-height:10px;color:#333;transform:scaleX(0.85);transform-origin:0 0;">0<span class="p">.</span>0000000</div></div>
<div class="cj" style="left:593.5px;top:446.2px;width:47.5px;overflow:hidden;height:10px;"><div style="font-size:8.2px;line-height:10px;color:#333;transform:scaleX(0.85);transform-origin:0 0;">0<span class="p">.</span>0000000</div></div>
<div class="cj" style="left:642.5px;top:446.2px;width:47.3px;overflow:hidden;height:10px;"><div style="font-size:8.2px;line-height:10px;color:#333;transform:scaleX(0.85);transform-origin:0 0;">0<span class="p">.</span>0000000</div></div>
<div class="cj" style="left:691.3px;top:446.2px;width:15.3px;overflow:hidden;height:10px;"><div style="font-size:8.2px;line-height:10px;color:#333;transform:scaleX(0.85);transform-origin:0 0;">0<span class="p">.</span>0000000</div></div>
<div class="cj" style="left:394.0px;top:457.1px;width:49.1px;overflow:hidden;height:10px;"><div style="font-size:8.2px;line-height:10px;color:#333;transform:scaleX(0.85);transform-origin:0 0;">0<span class="p">.</span>0000000</div></div>
<div class="cj" style="left:444.6px;top:457.1px;width:48.4px;overflow:hidden;height:10px;"><div style="font-size:8.2px;line-height:10px;color:#333;transform:scaleX(0.85);transform-origin:0 0;">0<span class="p">.</span>0000000</div></div>
<div class="cj" style="left:494.5px;top:457.1px;width:48.3px;overflow:hidden;height:10px;"><div style="font-size:8.2px;line-height:10px;color:#333;transform:scaleX(0.85);transform-origin:0 0;">0<span class="p">.</span>0000000</div></div>
<div class="cj" style="left:544.3px;top:457.1px;width:47.7px;overflow:hidden;height:10px;"><div style="font-size:8.2px;line-height:10px;color:#333;transform:scaleX(0.85);transform-origin:0 0;">0<span class="p">.</span>0000000</div></div>
<div class="cj" style="left:593.5px;top:457.1px;width:47.5px;overflow:hidden;height:10px;"><div style="font-size:8.2px;line-height:10px;color:#333;transform:scaleX(0.85);transform-origin:0 0;">0<span class="p">.</span>0000000</div></div>
<div class="cj" style="left:642.5px;top:457.1px;width:47.3px;overflow:hidden;height:10px;"><div style="font-size:8.2px;line-height:10px;color:#333;transform:scaleX(0.85);transform-origin:0 0;">0<span class="p">.</span>0000000</div></div>
<div class="cj" style="left:691.3px;top:457.1px;width:15.3px;overflow:hidden;height:10px;"><div style="font-size:8.2px;line-height:10px;color:#333;transform:scaleX(0.85);transform-origin:0 0;">0<span class="p">.</span>0000000</div></div>
<div class="cj" style="left:394.0px;top:467.5px;width:49.1px;overflow:hidden;height:10px;"><div style="font-size:8.2px;line-height:10px;color:#333;transform:scaleX(0.85);transform-origin:0 0;">0<span class="p">.</span>0000000</div></div>
<div class="cj" style="left:444.6px;top:467.5px;width:48.4px;overflow:hidden;height:10px;"><div style="font-size:8.2px;line-height:10px;color:#333;transform:scaleX(0.85);transform-origin:0 0;">0<span class="p">.</span>0000000</div></div>
<div class="cj" style="left:494.5px;top:467.5px;width:48.3px;overflow:hidden;height:10px;"><div style="font-size:8.2px;line-height:10px;color:#333;transform:scaleX(0.85);transform-origin:0 0;">0<span class="p">.</span>0000000</div></div>
<div class="cj" style="left:544.3px;top:467.5px;width:47.7px;overflow:hidden;height:10px;"><div style="font-size:8.2px;line-height:10px;color:#333;transform:scaleX(0.85);transform-origin:0 0;">0<span class="p">.</span>0000000</div></div>
<div class="cj" style="left:593.5px;top:467.5px;width:47.5px;overflow:hidden;height:10px;"><div style="font-size:8.2px;line-height:10px;color:#333;transform:scaleX(0.85);transform-origin:0 0;">0<span class="p">.</span>0000000</div></div>
<div class="cj" style="left:642.5px;top:467.5px;width:47.3px;overflow:hidden;height:10px;"><div style="font-size:8.2px;line-height:10px;color:#333;transform:scaleX(0.85);transform-origin:0 0;">0<span class="p">.</span>0000000</div></div>
<div class="cj" style="left:691.3px;top:467.5px;width:15.3px;overflow:hidden;height:10px;"><div style="font-size:8.2px;line-height:10px;color:#333;transform:scaleX(0.85);transform-origin:0 0;">0<span class="p">.</span>0000000</div></div>
<div class="cj" style="left:344px;top:445px;width:49px;height:12.0px;box-sizing:border-box;border:1px solid #b0b3ba;background:#f3f4f7;text-align:center;font-size:7.4px;line-height:10.0px;font-weight:bold;color:#333;">特征值</div>
<div class="cj" style="left:344px;top:456px;width:49px;height:11.0px;box-sizing:border-box;border:1px solid #b0b3ba;background:#f3f4f7;text-align:center;font-size:7.4px;line-height:9.0px;font-weight:bold;color:#333;">贡献率</div>
<div class="cj" style="left:344px;top:466px;width:49px;height:11.0px;box-sizing:border-box;border:1px solid #b0b3ba;background:#f3f4f7;text-align:center;font-size:7.4px;line-height:9.0px;font-weight:bold;color:#333;">累积贡献率</div>
<div class="abs" style="left:344px;top:476.6px;width:49px;height:1.2px;background:#8c9098;"></div>
<div class="cj" style="left:396px;top:477px;font-size:7px;line-height:10px;font-weight:bold;color:#444;font-family:'Liberation Sans',sans-serif;">&lt;</div>
<div class="abs" style="left:404px;top:477.8px;width:9.2px;height:8.8px;background:#d0d2d7;"></div>
<div class="gb" style="left:343.6px;top:489.5px;width:363px;height:29px;border-right:none;border-bottom:none;border-color:#a9acb3;border-top-width:1.5px;"></div>
<div class="cj" style="left:346.5px;top:499.2px;font-size:7.6px;line-height:11px;font-weight:bold;">分析显示<span class="p">:</span></div>
<div class="btn dis" style="left:383.5px;top:492.4px;width:30.5px;height:23.4px;line-height:16.8px;">特征值</div>
<div class="cj" style="left:419px;top:499.6px;font-size:7px;line-height:10px;font-weight:bold;color:#444;font-family:'Liberation Sans',sans-serif;">&lt;</div>
<div class="abs" style="left:426px;top:500px;width:9.9px;height:8.6px;background:#d0d2d7;"></div>
<div class="cj" style="left:442.4px;top:491.7px;font-size:7.2px;line-height:9px;color:#b8bbc1;">10</div>
<div class="cj" style="left:468px;top:499.6px;font-size:7px;line-height:10px;font-weight:bold;color:#444;font-family:'Liberation Sans',sans-serif;">&gt;</div>
<div class="cj" style="left:415.5px;top:508.8px;font-size:7.1px;line-height:10px;color:#b8bbc1;">选择特征值个数</div>
<div class="cj" style="left:482.7px;top:499.2px;font-size:7.6px;line-height:11px;font-weight:bold;">选择特征向量<span class="p">:</span></div>
<div class="abs" style="left:533px;top:493px;width:25.3px;height:10px;background:#dcdee2;"></div>
<div class="cj" style="left:534.5px;top:493.4px;font-size:6.2px;line-height:9px;color:#9ea2a9;">PC0</div>
<svg class="abs" style="left:549px;top:495px" width="8" height="6" viewBox="0 0 8 6" fill="none" stroke="#a2a5ab" stroke-width="0.8"><path d="M1.4 1.6l2.6 2.6l2.6-2.6"/></svg>
<div class="btn dis" style="left:561px;top:493px;width:51.6px;height:22.6px;line-height:16.0px;">特征向量曲线</div>
<div class="btn dis" style="left:615.3px;top:493px;width:44.4px;height:22.6px;line-height:16.0px;">主成份分布</div>
<!-- scrollbars of lower right -->
<div class="abs" style="left:706.6px;top:343px;width:10.4px;height:176px;background:#f2f3f5;"></div>
<div class="abs" style="left:707.6px;top:352px;width:8.6px;height:137px;background:#d0d2d7;"></div>
<svg class="abs" style="left:707px;top:343px" width="10" height="176" viewBox="0 0 10 176" fill="none" stroke="#505050" stroke-width="1.15"><path d="M2.6 5.2l2.4-2.4l2.4 2.4"/><path d="M2.6 168.6l2.4 2.4l2.4-2.4"/></svg>
<div class="abs" style="left:337px;top:519px;width:370px;height:9px;background:#f2f3f5;"></div>
<div class="abs" style="left:351px;top:519.4px;width:226px;height:7.6px;background:#d0d2d7;"></div>
<svg class="abs" style="left:337px;top:518px" width="370" height="10" viewBox="0 0 370 10" fill="none" stroke="#505050" stroke-width="1.15"><path d="M8.6 2.6l-2.4 2.4l2.4 2.4"/><path d="M364.2 2.6l2.4 2.4l-2.4 2.4"/></svg>

<div class="tb" style="left:28px;top:28.2px;width:22.5px;height:22.1px;"></div>
<div class="tb" style="left:51.8px;top:28.2px;width:22.0px;height:22.1px;"></div>
<div class="tb" style="left:75.6px;top:28.2px;width:21.5px;height:22.1px;"></div>
<div class="tb" style="left:98.9px;top:28.2px;width:22.2px;height:22.1px;"></div>
<svg class="abs" style="left:28px;top:28px" width="23" height="23" viewBox="0 0 23 23"><defs><linearGradient id="fg" x1="0" y1="0" x2="1" y2="1"><stop offset="0" stop-color="#fde56f"/><stop offset="1" stop-color="#f2c634"/></linearGradient></defs><path d="M12.6 6.2c0.4-1.8 2.6-2 3.2-0.4l0.5 1.6" fill="none" stroke="#8a8f98" stroke-width="0.8"/><path d="M3.2 7.4l4.4-1.2l1.6 1.4l6.6-1.4l0.6 10.6l-12 1.2z" fill="#ecbd30"/><path d="M5.4 9.2l14.4-1.6l-3 9.6l-12.6 1z" fill="url(#fg)"/></svg>
<svg class="abs" style="left:51.8px;top:28.2px" width="22" height="22" viewBox="0 0 22 22"><path d="M8.2 6.6A6 6 0 1 1 9.6 16.6" fill="none" stroke="#2f3561" stroke-width="1.9" stroke-linecap="round"/><path d="M4.6 10.4l1.2-6l5 3.6z" fill="#2f3561"/></svg>
<svg class="abs" style="left:75.6px;top:28.2px" width="22" height="22" viewBox="0 0 22 22"><path d="M13.6 6.6A6 6 0 1 0 12.2 16.6" fill="none" stroke="#b1b4ba" stroke-width="1.9" stroke-linecap="round"/><path d="M17.2 10.4l-1.2-6l-5 3.6z" fill="#b1b4ba"/></svg>
<svg class="abs" style="left:98.9px;top:28.2px" width="23" height="23" viewBox="0 0 23 23"><rect x="2.2" y="1.6" width="18.6" height="18.4" fill="#b9bcc2"/><rect x="1.4" y="1" width="17.6" height="17.4" fill="#fff" stroke="#4a5568" stroke-width="0.8"/><path d="M3.6 17.2L17.6 2.4" stroke="#3a4660" stroke-width="0.9"/><text x="2" y="8.6" font-family="Liberation Sans,sans-serif" font-weight="bold" font-size="7.4" fill="#2f62b0" letter-spacing="-0.5">1:1</text><text x="8.6" y="17.4" font-family="Liberation Sans,sans-serif" font-weight="bold" font-size="5.4" fill="#2f62b0" letter-spacing="-0.3">Raw</text></svg>
<div class="tb" style="left:33.6px;top:362px;width:21.6px;height:25.8px;"></div>
<div class="tb" style="left:57px;top:362px;width:21.5px;height:25.8px;"></div>
<div class="tb" style="left:80px;top:362px;width:22.3px;height:25.8px;"></div>
<div class="tb" style="left:103.9px;top:362px;width:22.4px;height:25.8px;"></div>
<div class="tb" style="left:127.5px;top:362px;width:22.0px;height:25.8px;"></div>
<div class="tb" style="left:151.1px;top:362px;width:22.2px;height:25.8px;"></div>
<div class="tb" style="left:174.9px;top:362px;width:22.2px;height:25.8px;"></div>
<div class="tb" style="left:198.6px;top:362px;width:22.0px;height:25.8px;"></div>
<div class="abs" style="left:223.5px;top:363.6px;width:22.0px;height:22.4px;background:#e2e4e8;border:1px solid #d3d5da;box-sizing:border-box;"></div>
<div class="tb" style="left:249px;top:362px;width:21.5px;height:25.8px;"></div>
<div class="tb" style="left:272px;top:362px;width:22.0px;height:25.8px;"></div>
<div class="tb" style="left:295.6px;top:362px;width:22.7px;height:25.8px;"></div>
<svg class="abs" style="left:33.6px;top:362px" width="22" height="26" viewBox="0 0 22 26"><rect x="1.6" y="3.8" width="18.8" height="19.2" fill="none" stroke="#eeae9f" stroke-width="0.9" stroke-dasharray="1.4 1.6"/><path d="M2.6 13H18M10.3 5.2V21" stroke="#1c1c1c" stroke-width="1.5" fill="none"/></svg>
<svg class="abs" style="left:57px;top:362px" width="22" height="26" viewBox="0 0 22 26"><path d="M13.6 14.6l6.6 6.8" stroke="#8f9298" stroke-width="1.35" stroke-linecap="round"/><circle cx="9.4" cy="10.2" r="7.8" fill="url(#lens)"/><rect x="4.2" y="6.4" width="10.2" height="7.6" fill="#d5e4f5" stroke="#6685bf" stroke-width="0.75"/><rect x="4.2" y="6.4" width="10.2" height="1.7" fill="#7d99d0"/></svg>
<svg class="abs" style="left:80px;top:362px" width="23" height="26" viewBox="0 0 23 26"><path d="M14 14.6l6.6 6.8" stroke="#8f9298" stroke-width="1.35" stroke-linecap="round"/><circle cx="9.8" cy="10.2" r="7.8" fill="url(#lens)"/><rect x="4.8" y="6.6" width="10" height="7.2" fill="#c9daf0" stroke="#3f5f98" stroke-width="0.9"/><path d="M4.8 6.6l10 7.2M14.8 6.6l-10 7.2" stroke="#3f5f98" stroke-width="0.8"/></svg>
<svg class="abs" style="left:103.9px;top:362px" width="23" height="26" viewBox="0 0 23 26"><defs><linearGradient id="rb" x1="0" y1="0" x2="0" y2="1"><stop offset="0" stop-color="#e8281e"/><stop offset="0.2" stop-color="#f39a1c"/><stop offset="0.38" stop-color="#f2e51e"/><stop offset="0.55" stop-color="#3cb43c"/><stop offset="0.72" stop-color="#1c9ad8"/><stop offset="0.88" stop-color="#2a3cae"/><stop offset="1" stop-color="#6a1c9a"/></linearGradient></defs><rect x="12.4" y="5" width="5" height="16" fill="url(#rb)"/><path d="M5 5.4l6.4 1.8l-6.4 1.8z" fill="#e0352a"/><path d="M5 17l6.4 1.8l-6.4 1.8z" fill="#1f4fae"/><path d="M11.6 8.4v9.4l-6.6-2.6v-4.2z" fill="#c9dceb"/></svg>
<div class="abs" style="left:130px;top:366.6px;width:17.6px;height:17.6px;border-radius:50%;background:conic-gradient(from -12deg,#e8281e,#f0701e 45deg,#f5b01c 80deg,#f4e01c 115deg,#8fca2c 150deg,#35ad40 185deg,#1f9e8c 215deg,#1c86d0 245deg,#2348b8 280deg,#4a28a4 310deg,#a0208a 338deg,#e8281e 360deg);"></div>
<div class="abs" style="left:136.2px;top:372.8px;width:5.2px;height:5.2px;border-radius:50%;background:#fff;"></div>
<svg class="abs" style="left:151.1px;top:362px" width="22" height="26" viewBox="0 0 22 26"><rect x="2.9" y="4.6" width="16.4" height="17" fill="#f5e8d6"/><circle cx="4.9" cy="6.8" r="1.2" fill="#fbf4ea"/><circle cx="4.9" cy="11.0" r="1.2" fill="#fbf4ea"/><circle cx="4.9" cy="15.2" r="1.2" fill="#fbf4ea"/><circle cx="4.9" cy="19.4" r="1.2" fill="#fbf4ea"/><circle cx="9.0" cy="6.8" r="1.2" fill="#fbf4ea"/><circle cx="9.0" cy="11.0" r="1.2" fill="#fbf4ea"/><circle cx="9.0" cy="15.2" r="1.2" fill="#fbf4ea"/><circle cx="9.0" cy="19.4" r="1.2" fill="#fbf4ea"/><circle cx="13.1" cy="6.8" r="1.2" fill="#fbf4ea"/><circle cx="13.1" cy="11.0" r="1.2" fill="#fbf4ea"/><circle cx="13.1" cy="15.2" r="1.2" fill="#fbf4ea"/><circle cx="13.1" cy="19.4" r="1.2" fill="#fbf4ea"/><circle cx="17.2" cy="6.8" r="1.2" fill="#fbf4ea"/><circle cx="17.2" cy="11.0" r="1.2" fill="#fbf4ea"/><circle cx="17.2" cy="15.2" r="1.2" fill="#fbf4ea"/><circle cx="17.2" cy="19.4" r="1.2" fill="#fbf4ea"/></svg>
<svg class="abs" style="left:174.9px;top:362px" width="23" height="26" viewBox="0 0 23 26"><defs><clipPath id="bp"><rect x="1.7" y="3.6" width="19" height="19.2"/></clipPath></defs><rect x="1.7" y="3.6" width="19" height="19.2" fill="#4853b2"/><g clip-path="url(#bp)" stroke="#e8ebf8" stroke-width="0.45" fill="none"><circle cx="1.7" cy="3.6" r="1.55"/><circle cx="1.7" cy="3.6" r="3.10"/><circle cx="1.7" cy="3.6" r="4.65"/><circle cx="1.7" cy="3.6" r="6.20"/><circle cx="1.7" cy="3.6" r="7.75"/><circle cx="1.7" cy="3.6" r="9.30"/><circle cx="1.7" cy="3.6" r="10.85"/><circle cx="1.7" cy="3.6" r="12.40"/><circle cx="20.7" cy="3.6" r="1.55"/><circle cx="20.7" cy="3.6" r="3.10"/><circle cx="20.7" cy="3.6" r="4.65"/><circle cx="20.7" cy="3.6" r="6.20"/><circle cx="20.7" cy="3.6" r="7.75"/><circle cx="20.7" cy="3.6" r="9.30"/><circle cx="20.7" cy="3.6" r="10.85"/><circle cx="20.7" cy="3.6" r="12.40"/><circle cx="1.7" cy="22.8" r="1.55"/><circle cx="1.7" cy="22.8" r="3.10"/><circle cx="1.7" cy="22.8" r="4.65"/><circle cx="1.7" cy="22.8" r="6.20"/><circle cx="1.7" cy="22.8" r="7.75"/><circle cx="1.7" cy="22.8" r="9.30"/><circle cx="1.7" cy="22.8" r="10.85"/><circle cx="1.7" cy="22.8" r="12.40"/><circle cx="20.7" cy="22.8" r="1.55"/><circle cx="20.7" cy="22.8" r="3.10"/><circle cx="20.7" cy="22.8" r="4.65"/><circle cx="20.7" cy="22.8" r="6.20"/><circle cx="20.7" cy="22.8" r="7.75"/><circle cx="20.7" cy="22.8" r="9.30"/><circle cx="20.7" cy="22.8" r="10.85"/><circle cx="20.7" cy="22.8" r="12.40"/></g><path d="M11.2 9.600l2.700 3.600l-2.700 3.600l-2.700-3.600z" fill="#fff" stroke="#2c379c" stroke-width="0.700"/><circle cx="11.200" cy="13.600" r="0.900" fill="#4853b2"/></svg>
<svg class="abs" style="left:198.6px;top:362px" width="22" height="26" viewBox="0 0 22 26"><rect x="1.8" y="4" width="17.6" height="17.6" fill="#efeff1" stroke="#a9abb0" stroke-width="0.9"/><path d="M6.2 17.6L15.2 8" stroke="#3a3a3a" stroke-width="0.9"/><circle cx="5.6" cy="18.2" r="1.5" fill="#efeff1" stroke="#4a4a4a" stroke-width="0.7"/><circle cx="15.8" cy="7.4" r="1.5" fill="#efeff1" stroke="#4a4a4a" stroke-width="0.7"/></svg>
<svg class="abs" style="left:223.5px;top:362px" width="22" height="26" viewBox="0 0 22 26"><path d="M6.6 5.6h7l3.6 3.4v11.8h-10.6z" fill="#52bfa4"/><path d="M13.6 5.6v3.4h3.6z" fill="#d9efe8"/><path d="M3.2 12.2h5.6v-2.4l4.4 3.8l-4.4 3.8v-2.4h-5.6z" fill="#1b7fd0"/></svg>
<svg class="abs" style="left:249px;top:362px" width="22" height="26" viewBox="0 0 22 26"><rect x="1.5" y="3.7" width="18.6" height="18.4" rx="1.8" fill="#fff" stroke="#b5b7bc" stroke-width="1.1"/><text x="1.6" y="12.8" font-family="Liberation Sans,sans-serif" font-size="10.4" fill="#f0959b">R</text><text x="6" y="17.6" font-family="Liberation Sans,sans-serif" font-size="10.4" fill="#86c588">G</text><text x="12.6" y="22.6" font-family="Liberation Sans,sans-serif" font-size="10.4" fill="#98a6e4">B</text></svg>
<svg class="abs" style="left:272px;top:362px" width="22" height="26" viewBox="0 0 22 26"><rect x="1.5" y="3.7" width="19.2" height="18.8" rx="2" fill="#fff" stroke="#b5b7bc" stroke-width="1.1"/><path d="M4.400 8.800h5.200M7 6.200v5.200" stroke="#ee5f62" stroke-width="0.9"/><path d="M12.400 8.800h5" stroke="#6fbf93" stroke-width="0.9"/><path d="M5 15.200l4 4M9 15.200l-4 4" stroke="#5f95e0" stroke-width="0.8"/><path d="M12.800 17.200h4.400" stroke="#f0a8c0" stroke-width="0.8"/><circle cx="15" cy="15.300" r="0.500" fill="#f0a8c0"/><circle cx="15" cy="19.100" r="0.500" fill="#f0a8c0"/></svg>
<svg class="abs" style="left:295.6px;top:362px" width="23" height="26" viewBox="0 0 23 26"><defs><linearGradient id="pk" x1="0" y1="0" x2="1" y2="0.600"><stop offset="0" stop-color="#f2da4c"/><stop offset="0.550" stop-color="#d8bc2c"/><stop offset="1" stop-color="#8f7d18"/></linearGradient></defs><path d="M3.200 15.600c3.600-0.400 5.600-1.800 6.600-5c0.600-2.200 0.900-4.600 1.600-4.600c0.700 0 1.100 2.600 1.900 4.800c1.100 3 3.300 4.400 6.700 5c-1.600 1.600-5.200 3.800-7.400 4.200c-3.400-0.600-7.400-2.600-9.400-4.400z" fill="url(#pk)"/></svg>
<svg class="abs" style="left:343.6px;top:361px" width="23" height="26" viewBox="0 0 23 26"><defs><linearGradient id="lens" x1="0" y1="0" x2="0" y2="1"><stop offset="0" stop-color="#a6c9ee"/><stop offset="0.55" stop-color="#cfe0f3"/><stop offset="1" stop-color="#f1f5fa"/></linearGradient></defs><path d="M14.600 17.600l5.800 5.200" stroke="#6e7177" stroke-width="1.500" stroke-linecap="round"/><circle cx="9.900" cy="11.300" r="8" fill="url(#lens)"/><rect x="4.800" y="8.400" width="9.400" height="7" fill="#cfe3f6" stroke="#2f3d52" stroke-width="1"/><path d="M4.800 8.400l9.400 7M14.200 8.400l-9.400 7" stroke="#2f3d52" stroke-width="0.900"/></svg>
<svg class="abs" style="left:367.4px;top:361px" width="23" height="26" viewBox="0 0 23 26"><rect x="2.800" y="7.400" width="17.700" height="12.200" rx="0.800" fill="#fff" stroke="#6a6b74" stroke-width="0.900"/><path d="M4.600 18.800c3.200 0 4.400-2 5.200-5.600c0.600-2.800 0.900-5.200 1.800-5.200c0.900 0 1.200 2.400 1.800 5.200c0.800 3.600 2 5.600 5.200 5.600z" fill="#f6cbc6"/><path d="M6.400 18.800c2.400-0.400 3.200-2.600 3.900-5.800c0.500-2.400 0.800-4.600 1.300-4.600c0.500 0 0.800 2.200 1.300 4.600c0.700 3.200 1.500 5.400 3.900 5.800" fill="none" stroke="#e88a80" stroke-width="0.600"/></svg>
<svg class="abs" style="left:668.2px;top:362.2px" width="20" height="25" viewBox="0 0 20 25"><rect x="0.9" y="3.2" width="17" height="18.800" rx="1.500" fill="#fff" stroke="#c9cbd0" stroke-width="0.900"/><path d="M2.600 8.300h12.600" stroke="#ee6a62" stroke-width="1.100" stroke-dasharray="3.200 1.300"/><path d="M2.600 13.300h12.600" stroke="#4bb058" stroke-width="1.300" stroke-dasharray="1.300 1.700"/><path d="M2.400 17.300h13" stroke="#27308a" stroke-width="2.100"/></svg>
<div class="abs" style="left:690.7px;top:362.2px;width:15.9px;height:25.2px;overflow:hidden;"><svg width="22" height="25" viewBox="0 0 22 25"><path d="M7.400 5.200h7l3.600 3.400v11.800h-10.600z" fill="#52bfa4"/><path d="M14.400 5.200v3.400h3.600z" fill="#d9efe8"/><path d="M3.600 11.800h5.600v-2.400l4.400 3.800l-4.400 3.800v-2.400h-5.600z" fill="#1b7fd0"/></svg></div>
</body>
</html>
